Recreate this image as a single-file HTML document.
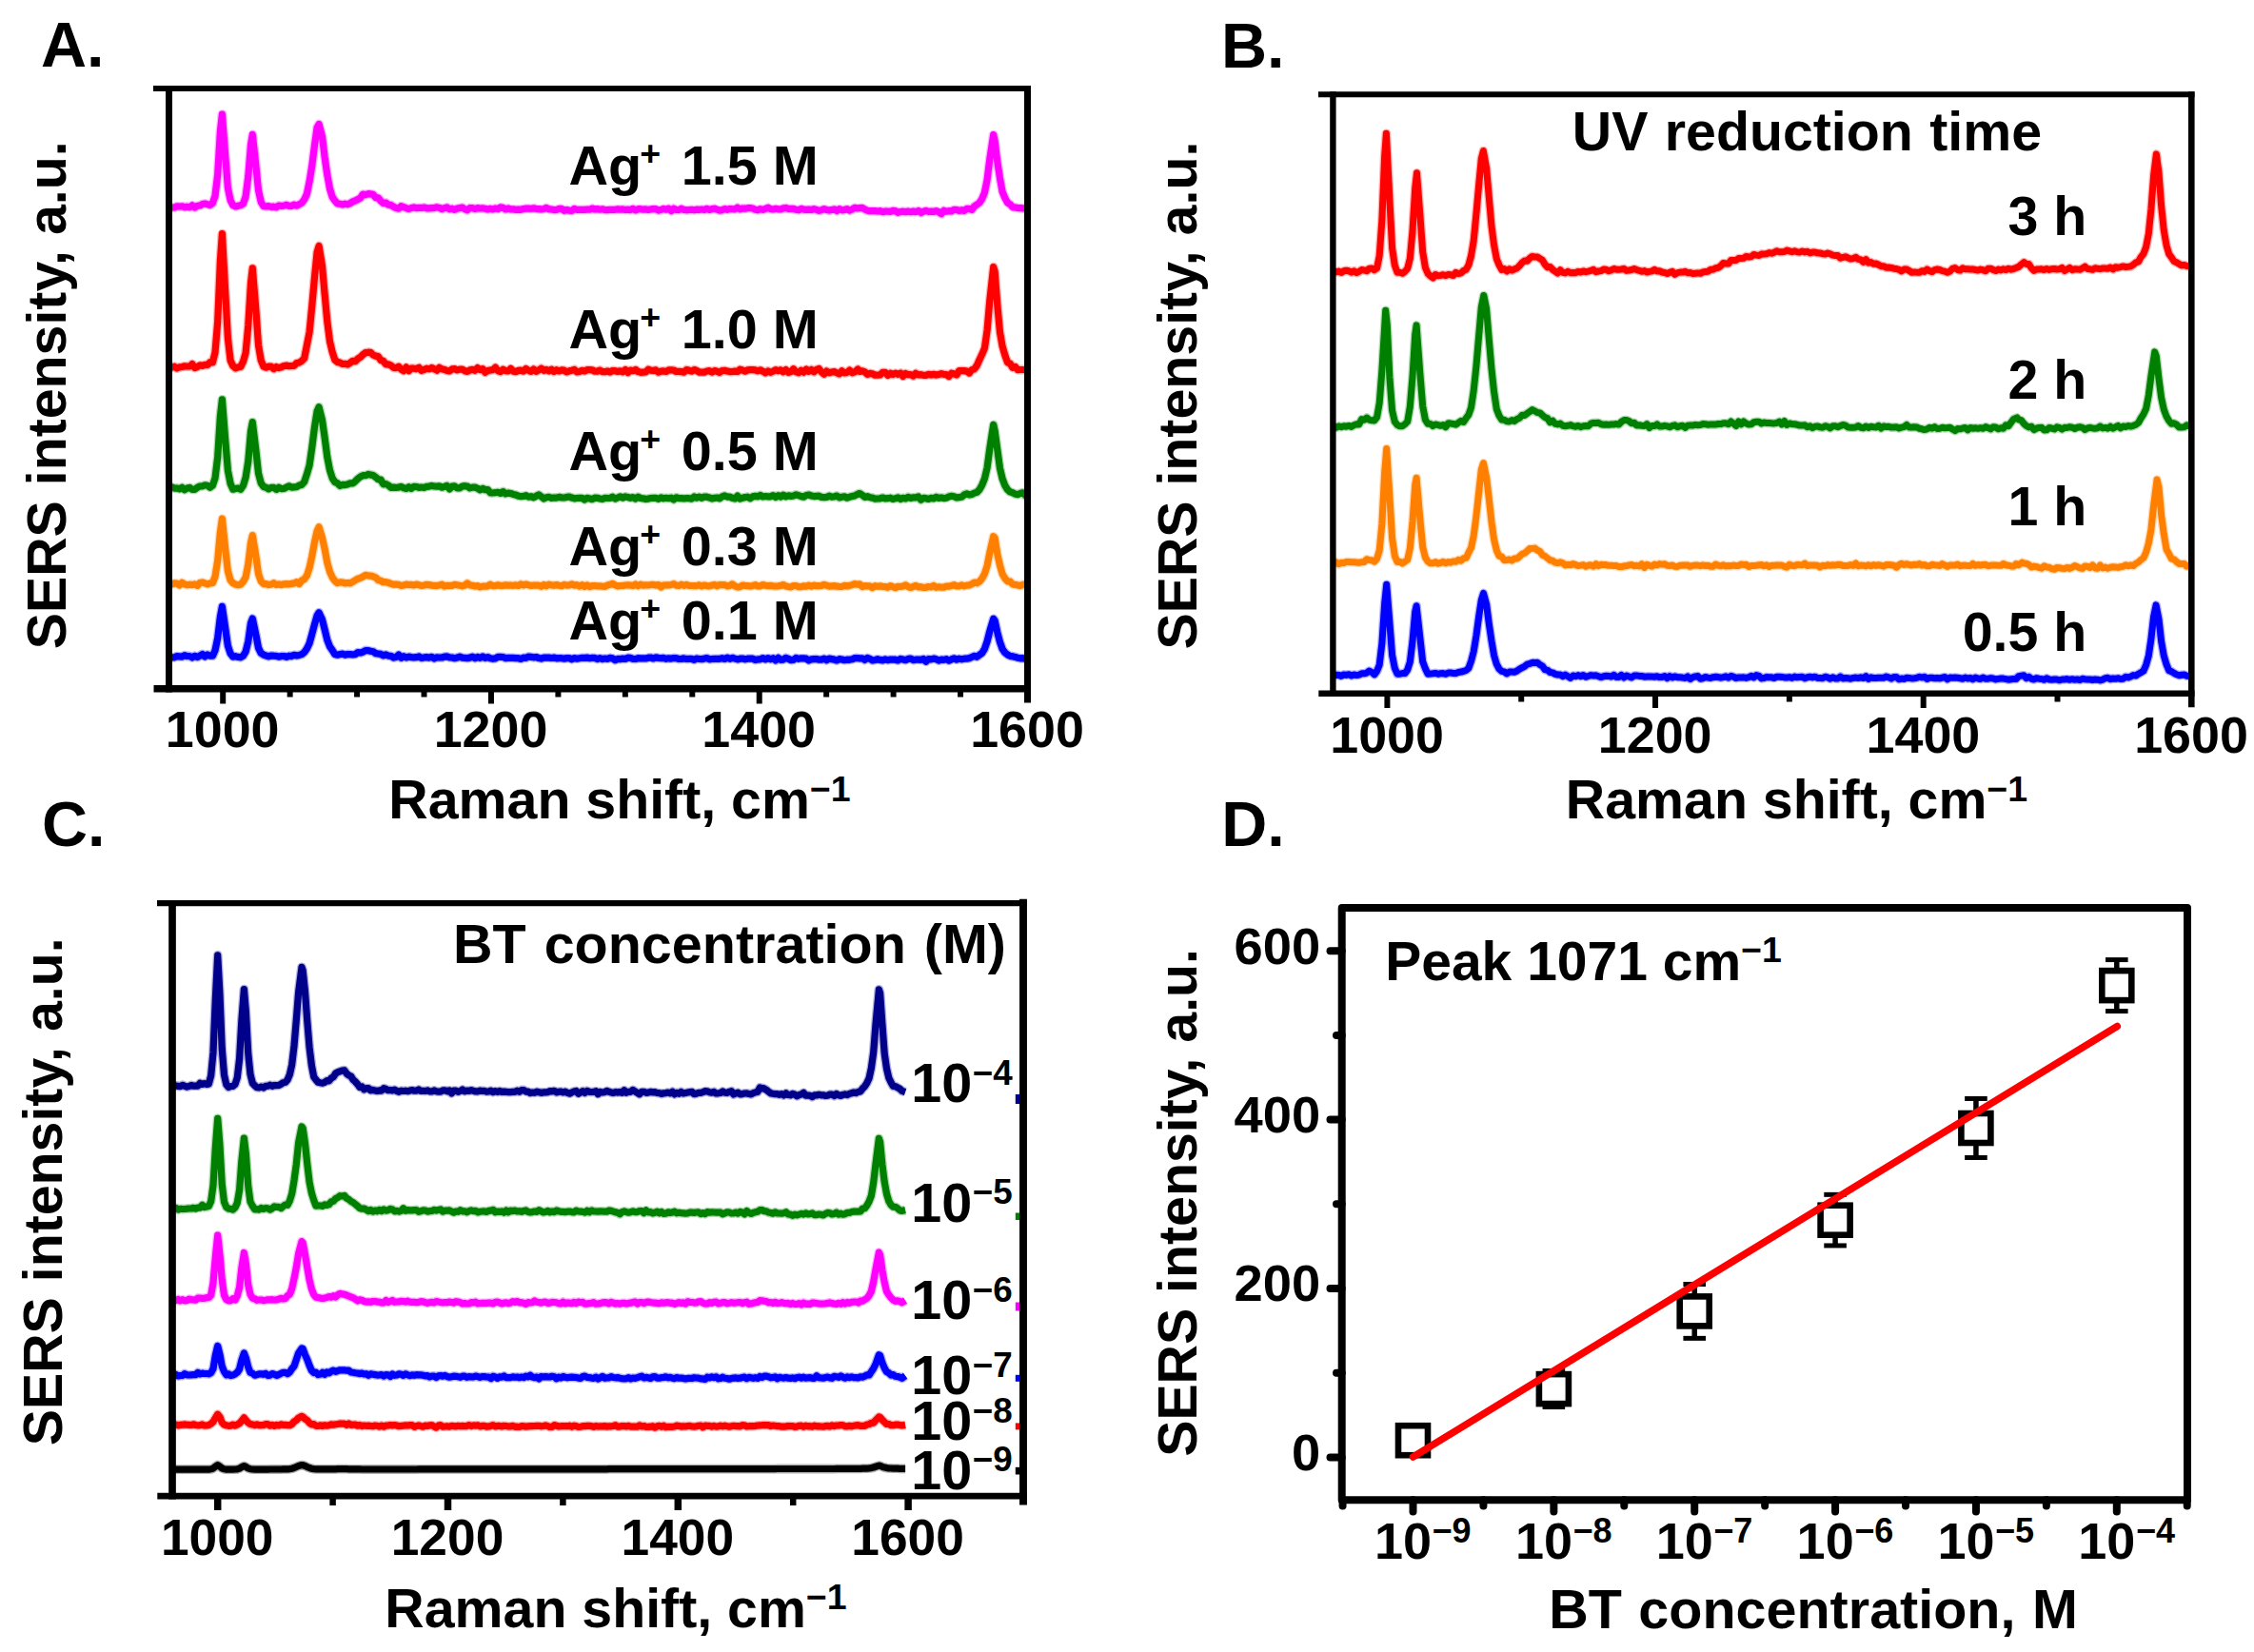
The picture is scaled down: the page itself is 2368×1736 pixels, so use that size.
<!DOCTYPE html>
<html lang="en"><head><meta charset="utf-8"><title>SERS spectra figure</title>
<style>html,body{margin:0;padding:0;background:#fff;}body{width:2368px;height:1736px;overflow:hidden;}svg{display:block;}text{font-family:'Liberation Sans', Arial, Helvetica, sans-serif;font-weight:bold;fill:#000;}</style>
</head><body>
<svg width="2368" height="1736" viewBox="0 0 2368 1736">
<rect x="0" y="0" width="2368" height="1736" fill="#fff"/>
<g id="panelA">
<defs><polyline id="sp1" points="177.8,217.1 180.5,218.1 183.2,218.0 185.9,216.8 188.6,217.0 191.2,216.8 193.9,217.6 196.6,217.2 199.3,217.7 201.9,215.8 204.6,218.0 207.3,216.3 210.0,216.0 212.6,214.6 215.3,214.0 218.0,214.8 220.7,215.5 223.4,213.4 226.0,205.8 228.7,183.2 231.4,138.0 233.4,120.1 236.7,163.6 239.4,197.5 242.1,210.6 244.8,215.7 247.4,216.9 250.1,216.4 252.8,215.6 255.5,214.1 258.1,206.5 260.8,185.3 263.5,152.1 265.3,141.4 268.9,174.3 271.5,200.0 274.2,212.3 276.9,216.7 279.6,216.9 282.2,216.6 284.9,217.4 287.6,217.2 290.3,217.8 292.9,216.0 295.6,216.3 298.3,216.1 301.0,215.3 303.7,216.4 306.3,216.4 309.0,215.1 311.7,216.1 314.4,214.8 317.0,213.2 319.7,209.8 322.4,203.8 325.1,190.7 327.7,174.6 330.4,153.4 333.1,134.0 335.1,130.4 338.5,143.4 341.1,164.9 343.8,183.7 346.5,198.4 349.2,207.2 351.8,210.8 354.5,213.9 357.2,214.3 359.9,215.0 362.5,214.2 365.2,214.8 367.9,213.6 370.6,211.9 373.2,210.9 375.9,209.5 378.6,208.1 381.3,204.1 384.0,204.7 387.1,203.6 389.3,203.9 392.0,204.4 394.7,207.6 397.3,207.8 400.0,211.1 402.7,213.5 405.4,213.0 408.0,215.2 410.7,215.4 413.4,217.2 416.1,218.6 418.8,219.2 421.4,216.7 424.1,217.7 426.8,218.7 429.5,219.4 432.1,218.6 434.8,217.9 437.5,218.6 440.2,218.4 442.8,218.4 445.5,218.0 448.2,218.8 450.9,218.8 453.6,218.6 456.2,218.5 458.9,217.8 461.6,218.4 464.3,219.6 466.9,218.7 469.6,217.8 472.3,219.8 475.0,219.2 477.6,220.4 480.3,219.0 483.0,218.6 485.7,218.0 488.3,219.9 491.0,220.8 493.7,218.5 496.4,218.6 499.1,219.5 501.7,218.6 504.4,219.0 507.1,218.9 509.8,219.3 512.4,220.0 515.1,219.3 517.8,219.9 520.5,219.0 523.1,219.6 525.8,217.9 528.5,218.4 531.2,220.0 533.9,219.0 536.5,219.9 539.2,219.9 541.9,220.4 544.6,220.1 547.2,220.3 549.9,219.5 552.6,219.1 555.3,219.1 557.9,219.3 560.6,218.9 563.3,219.3 566.0,219.6 568.6,219.9 571.3,219.5 574.0,218.4 576.7,219.7 579.4,220.0 582.0,220.6 584.7,220.3 587.4,219.4 590.1,219.4 592.7,221.3 595.4,220.5 598.1,221.2 600.8,221.5 603.4,219.4 606.1,220.3 608.8,220.3 611.5,220.4 614.2,220.4 616.8,220.2 619.5,220.2 622.2,219.0 624.9,220.0 627.5,219.6 630.2,220.2 632.9,219.8 635.6,220.6 638.2,220.7 640.9,220.4 643.6,220.4 646.3,220.3 649.0,219.9 651.6,220.1 654.3,219.9 657.0,220.5 659.7,220.2 662.3,220.6 665.0,219.3 667.7,220.9 670.4,219.7 673.0,219.7 675.7,220.1 678.4,219.9 681.1,220.5 683.7,219.9 686.4,219.5 689.1,219.7 691.8,221.2 694.5,220.3 697.1,219.4 699.8,220.2 702.5,219.1 705.2,221.5 707.8,219.1 710.5,220.5 713.2,220.6 715.9,219.2 718.5,220.4 721.2,220.8 723.9,220.5 726.6,220.3 729.3,220.8 731.9,220.2 734.6,220.3 737.3,220.0 740.0,220.5 742.6,219.3 745.3,220.5 748.0,219.6 750.7,219.2 753.3,220.2 756.0,221.1 758.7,220.6 761.4,219.5 764.0,220.3 766.7,219.5 769.4,219.7 772.1,219.8 774.8,218.1 777.4,219.9 780.1,219.0 782.8,219.2 785.5,218.7 788.1,218.6 790.8,219.0 793.5,220.2 796.2,220.8 798.8,219.6 801.5,220.4 804.2,219.4 806.9,218.2 809.6,219.7 812.2,219.9 814.9,219.3 817.6,219.8 820.3,219.9 822.9,218.9 825.6,218.5 828.3,219.4 831.0,219.4 833.6,219.3 836.3,220.3 839.0,220.8 841.7,219.3 844.4,220.1 847.0,220.4 849.7,220.2 852.4,220.5 855.1,219.6 857.7,220.4 860.4,221.4 863.1,220.6 865.8,219.6 868.4,220.5 871.1,221.1 873.8,220.5 876.5,219.9 879.1,221.5 881.8,219.6 884.5,220.8 887.2,220.5 889.9,219.6 892.5,221.1 895.2,220.0 897.9,218.3 900.6,219.0 903.2,218.6 905.9,218.4 908.6,220.0 911.3,221.2 913.9,221.7 916.6,221.6 919.3,221.6 922.0,222.0 924.7,221.6 927.3,222.7 930.0,222.0 932.7,222.2 935.4,222.4 938.0,221.4 940.7,221.7 943.4,223.3 946.1,222.5 948.7,222.2 951.4,222.6 954.1,222.1 956.8,222.7 959.5,222.0 962.1,222.7 964.8,221.4 967.5,223.5 970.2,222.2 972.8,221.4 975.5,222.3 978.2,222.2 980.9,222.5 983.5,221.6 986.2,222.6 988.9,224.8 991.6,221.2 994.2,222.3 996.9,221.7 999.6,221.9 1002.3,220.3 1005.0,220.5 1007.6,221.4 1010.3,220.8 1013.0,221.5 1015.7,219.4 1018.3,219.4 1021.0,220.5 1023.7,216.7 1026.4,215.0 1029.0,213.0 1031.7,208.9 1034.4,202.3 1037.1,188.9 1039.8,167.3 1043.7,141.6 1045.1,148.0 1047.8,169.8 1050.5,187.3 1053.1,201.6 1055.8,208.0 1058.5,212.9 1061.2,214.7 1063.8,217.6 1066.5,217.9 1069.2,218.6 1071.9,218.6 1074.5,218.8 1079.5,219.5"/></defs>
<use href="#sp1" fill="none" stroke="#ff00ff" stroke-width="9.80" stroke-linejoin="round" opacity="0.3"/>
<use href="#sp1" fill="none" stroke="#ff00ff" stroke-width="7.20" stroke-linejoin="round"/>
<defs><polyline id="sp2" points="177.8,386.9 180.5,386.1 183.2,385.2 185.9,387.0 188.6,385.8 191.2,385.5 193.9,384.8 196.6,385.0 199.3,385.0 201.9,382.5 204.6,386.5 207.3,385.5 210.0,383.9 212.6,384.4 215.3,383.3 218.0,383.5 220.7,380.6 223.4,380.8 226.0,370.2 228.7,337.8 231.4,274.3 233.4,245.6 236.7,306.8 239.4,355.5 242.1,378.9 244.8,384.6 247.4,386.9 250.1,385.8 252.8,385.4 255.5,379.9 258.1,370.8 260.8,341.8 263.5,297.5 265.3,281.8 268.9,326.1 271.5,362.8 274.2,378.6 276.9,385.1 279.6,386.2 282.2,385.2 284.9,385.1 287.6,387.6 290.3,385.5 292.9,386.6 295.6,385.8 298.3,384.5 301.0,384.1 303.7,384.7 306.3,384.5 309.0,384.3 311.7,381.5 314.4,381.0 317.0,379.3 319.7,376.5 322.4,362.7 325.1,348.9 327.7,322.2 330.4,292.3 333.1,265.1 335.1,258.5 338.5,279.6 341.1,308.8 343.8,337.8 346.5,358.9 349.2,370.2 351.8,378.2 354.5,380.4 357.2,381.1 359.9,382.5 362.5,382.3 365.2,383.0 367.9,381.2 370.6,379.3 373.2,379.7 375.9,377.1 378.6,375.3 381.3,372.7 384.0,370.6 387.1,370.2 389.3,370.3 392.0,373.0 394.7,374.1 397.3,374.6 400.0,378.6 402.7,379.3 405.4,382.9 408.0,382.9 410.7,384.0 413.4,386.3 416.1,386.6 418.8,385.2 421.4,388.1 424.1,389.8 426.8,385.9 429.5,389.6 432.1,387.0 434.8,387.2 437.5,387.6 440.2,386.3 442.8,389.4 445.5,388.5 448.2,387.2 450.9,387.7 453.6,386.4 456.2,387.7 458.9,389.2 461.6,386.3 464.3,387.8 466.9,388.4 469.6,389.5 472.3,389.8 475.0,387.9 477.6,387.6 480.3,388.9 483.0,388.1 485.7,388.2 488.3,389.7 491.0,390.4 493.7,388.9 496.4,388.4 499.1,389.3 501.7,386.6 504.4,388.7 507.1,387.6 509.8,391.4 512.4,389.6 515.1,389.0 517.8,388.6 520.5,386.1 523.1,389.7 525.8,390.7 528.5,388.2 531.2,389.7 533.9,389.8 536.5,387.3 539.2,390.1 541.9,390.6 544.6,389.4 547.2,389.1 549.9,390.0 552.6,387.5 555.3,389.3 557.9,390.4 560.6,387.9 563.3,390.4 566.0,388.9 568.6,387.1 571.3,389.3 574.0,388.3 576.7,389.8 579.4,388.2 582.0,390.6 584.7,388.7 587.4,389.9 590.1,388.9 592.7,389.2 595.4,390.9 598.1,389.8 600.8,389.2 603.4,388.3 606.1,390.9 608.8,390.5 611.5,389.3 614.2,390.0 616.8,388.6 619.5,388.6 622.2,388.8 624.9,390.2 627.5,390.1 630.2,389.0 632.9,390.6 635.6,390.7 638.2,390.0 640.9,391.0 643.6,389.5 646.3,389.7 649.0,390.4 651.6,389.9 654.3,390.8 657.0,388.5 659.7,391.5 662.3,389.1 665.0,389.7 667.7,388.4 670.4,390.6 673.0,391.3 675.7,391.1 678.4,390.9 681.1,388.2 683.7,389.1 686.4,389.4 689.1,388.9 691.8,391.2 694.5,390.2 697.1,389.9 699.8,390.5 702.5,388.9 705.2,388.9 707.8,389.0 710.5,390.5 713.2,390.3 715.9,390.6 718.5,391.1 721.2,388.5 723.9,389.3 726.6,390.1 729.3,388.5 731.9,389.4 734.6,391.1 737.3,391.2 740.0,391.1 742.6,390.0 745.3,389.7 748.0,391.1 750.7,389.5 753.3,390.3 756.0,391.4 758.7,389.5 761.4,389.3 764.0,389.9 766.7,390.6 769.4,390.5 772.1,390.1 774.8,390.5 777.4,388.2 780.1,389.0 782.8,390.1 785.5,388.9 788.1,388.5 790.8,388.6 793.5,388.9 796.2,389.7 798.8,388.8 801.5,390.2 804.2,391.8 806.9,389.8 809.6,391.3 812.2,390.2 814.9,388.7 817.6,389.6 820.3,388.8 822.9,390.8 825.6,388.6 828.3,391.4 831.0,390.6 833.6,387.7 836.3,390.8 839.0,391.7 841.7,389.2 844.4,391.2 847.0,388.1 849.7,390.4 852.4,388.4 855.1,390.8 857.7,388.4 860.4,387.5 863.1,390.9 865.8,393.1 868.4,390.0 871.1,391.7 873.8,391.0 876.5,390.6 879.1,391.7 881.8,392.9 884.5,389.8 887.2,391.8 889.9,391.4 892.5,389.1 895.2,391.7 897.9,390.9 901.3,388.0 903.2,390.4 905.9,389.8 908.6,390.8 911.3,393.4 913.9,392.4 916.6,392.8 919.3,394.2 922.0,394.1 924.7,393.8 927.3,391.4 930.0,391.3 932.7,394.4 935.4,392.2 938.0,393.5 940.7,392.2 943.4,393.3 946.1,392.1 948.7,395.4 951.4,392.5 954.1,393.6 956.8,393.6 959.5,395.1 962.1,392.3 964.8,393.8 967.5,393.6 970.2,394.4 972.8,394.3 975.5,393.3 978.2,394.0 980.9,393.3 983.5,394.1 986.2,393.4 988.9,392.7 991.6,393.3 994.2,393.5 996.9,395.5 999.6,392.2 1002.3,392.8 1005.0,393.8 1007.6,389.6 1010.3,389.5 1013.0,389.6 1015.7,390.1 1018.3,392.0 1021.0,388.6 1023.7,387.8 1026.4,383.9 1029.0,378.0 1031.7,372.3 1034.4,365.9 1037.1,346.9 1039.8,316.0 1043.7,280.7 1045.1,285.4 1047.8,320.2 1050.5,349.1 1053.1,364.0 1055.8,373.3 1058.5,380.9 1061.2,382.0 1063.8,386.3 1066.5,385.4 1069.2,388.6 1071.9,388.5 1074.5,388.5 1079.5,388.6"/></defs>
<use href="#sp2" fill="none" stroke="#ff0000" stroke-width="9.80" stroke-linejoin="round" opacity="0.3"/>
<use href="#sp2" fill="none" stroke="#ff0000" stroke-width="7.20" stroke-linejoin="round"/>
<defs><polyline id="sp3" points="177.8,513.5 180.5,511.8 183.2,513.1 185.9,513.0 188.6,513.9 191.2,512.3 193.9,514.7 196.6,513.1 199.3,512.4 201.9,514.3 204.6,514.3 207.3,512.3 210.0,511.0 212.6,510.8 215.3,509.8 218.0,510.3 220.7,512.2 223.4,510.1 226.0,502.4 228.7,480.3 231.4,437.6 233.4,419.9 236.7,462.2 239.4,494.4 242.1,508.2 244.8,514.2 247.4,513.5 250.1,513.0 252.8,514.3 255.5,510.3 258.1,501.8 260.8,484.6 263.5,453.1 265.3,443.6 268.9,473.5 271.5,497.3 274.2,507.6 276.9,511.5 279.6,512.3 282.2,513.9 284.9,512.3 287.6,512.4 290.3,514.4 292.9,512.2 295.6,513.7 298.3,513.4 301.0,512.1 303.7,510.8 306.3,512.1 309.0,511.8 311.7,511.6 314.4,510.0 317.0,509.4 319.7,506.4 322.4,498.2 325.1,488.9 327.7,470.8 330.4,449.5 333.1,432.3 335.1,427.8 338.5,441.4 341.1,459.5 343.8,480.3 346.5,494.1 349.2,502.5 351.8,506.5 354.5,507.8 357.2,510.5 359.9,509.3 362.5,509.6 365.2,508.9 367.9,507.9 370.6,507.8 373.2,505.8 375.9,503.1 378.6,501.0 381.3,499.7 384.0,499.7 387.1,498.4 389.3,498.9 392.0,499.6 394.7,501.4 397.3,503.7 400.0,504.1 402.7,508.8 405.4,508.5 408.0,510.0 410.7,512.4 413.4,512.2 416.1,512.4 418.8,512.1 421.4,511.4 424.1,512.8 426.8,513.5 429.5,511.7 432.1,513.4 434.8,511.3 437.5,511.5 440.2,512.4 442.8,512.0 445.5,512.5 448.2,511.4 450.9,511.1 453.6,510.4 456.2,511.0 458.9,511.1 461.6,510.8 464.3,512.2 466.9,511.4 469.6,510.3 472.3,513.9 475.0,511.2 477.6,510.9 480.3,512.9 483.0,512.8 485.7,511.0 488.3,510.7 491.0,511.1 493.7,512.9 496.4,512.1 499.1,512.1 501.7,513.2 504.4,514.8 507.1,513.3 509.8,514.7 512.4,514.5 515.1,517.8 517.8,518.0 520.5,517.7 523.1,517.3 525.8,518.4 528.5,516.6 531.2,518.9 533.9,518.1 536.5,518.5 539.2,519.4 541.9,520.1 544.6,521.2 547.2,521.6 549.9,521.5 552.6,520.7 555.3,522.2 557.9,521.7 560.6,522.8 563.3,521.3 566.0,519.9 568.6,521.8 571.3,524.0 574.0,522.8 576.7,522.3 579.4,523.3 582.0,523.0 584.7,523.1 587.4,522.4 590.1,522.9 592.7,523.0 595.4,522.4 598.1,522.0 600.8,523.1 603.4,523.8 606.1,523.5 608.8,523.4 611.5,523.4 614.2,525.1 616.8,523.3 619.5,523.9 622.2,524.7 624.9,523.2 627.5,523.3 630.2,524.0 632.9,524.5 635.6,523.4 638.2,523.5 640.9,523.3 643.6,522.2 646.3,524.1 649.0,523.0 651.6,521.9 654.3,523.1 657.0,521.9 659.7,522.5 662.3,523.3 665.0,522.6 667.7,524.2 670.4,522.1 673.0,523.5 675.7,523.8 678.4,524.5 681.1,524.1 683.7,523.5 686.4,523.4 689.1,523.3 691.8,524.3 694.5,522.8 697.1,523.8 699.8,523.3 702.5,523.6 705.2,523.2 707.8,525.1 710.5,522.8 713.2,523.6 715.9,523.6 718.5,523.8 721.2,523.7 723.9,523.7 726.6,524.1 729.3,522.0 731.9,523.2 734.6,522.2 737.3,523.3 740.0,522.1 742.6,522.2 745.3,522.9 748.0,524.0 750.7,523.3 753.3,523.0 756.0,523.8 758.7,521.9 761.4,520.9 764.0,522.1 766.7,522.2 769.4,523.3 772.1,524.0 774.8,521.1 777.4,524.1 780.1,523.3 782.8,522.6 785.5,522.2 788.1,523.8 790.8,521.9 793.5,521.4 796.2,521.8 798.8,520.5 801.5,522.0 804.2,521.5 806.9,521.8 809.6,521.8 812.2,520.6 814.9,522.5 817.6,520.6 820.3,522.2 822.9,520.2 825.6,521.8 828.3,520.8 831.0,521.5 833.6,521.0 836.3,519.8 839.0,520.7 841.7,521.6 844.4,522.1 847.0,520.5 849.7,520.0 852.4,521.0 855.1,521.6 857.7,521.3 860.4,521.2 863.1,522.5 865.8,522.7 868.4,522.5 871.1,521.2 873.8,522.1 876.5,521.9 879.1,521.0 881.8,522.9 884.5,522.2 887.2,521.8 889.9,523.2 892.5,522.3 895.2,521.6 897.9,520.9 901.3,519.2 903.2,518.5 905.9,520.3 908.6,522.5 911.3,521.7 913.9,522.7 916.6,523.1 919.3,524.1 922.0,524.0 924.7,523.8 927.3,523.0 930.0,523.9 932.7,523.7 935.4,523.2 938.0,524.4 940.7,523.8 943.4,522.8 946.1,524.5 948.7,523.3 951.4,524.0 954.1,522.3 956.8,523.5 959.5,522.8 962.1,522.8 964.8,522.0 967.5,525.3 970.2,523.4 972.8,523.7 975.5,524.4 978.2,523.4 980.9,523.9 983.5,522.3 986.2,523.5 988.9,522.9 991.6,523.6 994.2,523.2 996.9,521.9 999.6,521.3 1002.3,521.8 1005.0,523.0 1007.6,522.6 1010.3,522.2 1013.0,519.9 1015.7,518.9 1018.3,520.0 1021.0,519.4 1023.7,518.1 1026.4,517.3 1029.0,514.5 1031.7,509.7 1034.4,503.0 1037.1,491.5 1039.8,471.5 1043.7,446.4 1045.1,452.6 1047.8,472.3 1050.5,492.1 1053.1,503.1 1055.8,510.2 1058.5,514.6 1061.2,516.9 1063.8,517.7 1066.5,519.2 1069.2,519.6 1071.9,518.5 1074.5,517.8 1079.5,522.7"/></defs>
<use href="#sp3" fill="none" stroke="#008000" stroke-width="9.80" stroke-linejoin="round" opacity="0.3"/>
<use href="#sp3" fill="none" stroke="#008000" stroke-width="7.20" stroke-linejoin="round"/>
<defs><polyline id="sp4" points="177.8,614.6 180.5,614.0 183.2,612.9 185.9,613.2 188.6,615.0 191.2,612.2 193.9,613.9 196.6,614.7 199.3,614.2 201.9,614.6 204.6,613.9 207.3,615.4 210.0,612.6 212.6,612.0 215.3,612.9 218.0,613.8 220.7,612.9 223.4,612.6 226.0,605.8 228.7,588.8 231.4,559.2 233.4,545.1 236.7,576.9 239.4,600.2 242.1,609.7 244.8,612.8 247.4,614.1 250.1,614.7 252.8,614.2 255.5,611.1 258.1,606.7 260.8,592.6 263.5,570.3 265.3,562.6 268.9,584.5 271.5,603.1 274.2,610.7 276.9,613.6 279.6,613.6 282.2,614.5 284.9,614.1 287.6,612.7 290.3,614.5 292.9,613.9 295.6,614.6 298.3,613.8 301.0,613.7 303.7,613.8 306.3,613.4 309.0,612.9 311.7,611.6 314.4,613.5 317.0,610.0 319.7,608.7 322.4,604.9 325.1,596.7 327.7,584.7 330.4,570.1 333.1,558.1 335.1,553.8 338.5,565.0 341.1,576.7 343.8,591.3 346.5,600.9 349.2,606.8 351.8,610.4 354.5,612.7 357.2,611.8 359.9,612.0 362.5,612.9 365.2,612.5 367.9,612.9 370.6,611.4 373.2,609.8 375.9,608.2 378.6,607.4 381.3,606.0 384.0,604.4 387.1,605.0 389.3,605.1 392.0,605.8 394.7,606.8 397.3,609.6 400.0,610.3 402.7,611.7 405.4,611.7 408.0,612.3 410.7,613.4 413.4,614.2 416.1,614.1 418.8,614.4 421.4,615.3 424.1,615.0 426.8,614.1 429.5,614.5 432.1,614.4 434.8,615.0 437.5,614.1 440.2,614.8 442.8,615.4 445.5,615.0 448.2,614.3 450.9,614.6 453.6,615.1 456.2,615.3 458.9,615.6 461.6,614.9 464.3,614.1 466.9,616.0 469.6,615.3 472.3,615.3 475.0,615.3 477.6,614.3 480.3,614.8 483.0,615.3 485.7,615.8 488.3,615.1 491.0,612.9 493.7,614.9 496.4,615.3 499.1,616.0 501.7,615.6 504.4,616.9 507.1,616.1 509.8,616.1 512.4,615.8 515.1,614.2 517.8,615.7 520.5,615.5 523.1,614.8 525.8,615.5 528.5,615.4 531.2,614.8 533.9,615.1 536.5,615.0 539.2,615.3 541.9,614.9 544.6,615.5 547.2,613.8 549.9,615.0 552.6,614.0 555.3,614.8 557.9,615.5 560.6,615.2 563.3,615.1 566.0,615.2 568.6,616.3 571.3,614.4 574.0,615.8 576.7,614.1 579.4,614.9 582.0,615.3 584.7,614.6 587.4,615.3 590.1,615.7 592.7,614.4 595.4,615.1 598.1,614.9 600.8,613.8 603.4,615.1 606.1,614.6 608.8,616.1 611.5,614.6 614.2,616.4 616.8,614.8 619.5,616.6 622.2,615.6 624.9,615.5 627.5,615.8 630.2,615.8 632.9,616.2 635.6,616.4 638.2,615.0 640.9,614.3 643.6,613.3 646.3,614.9 649.0,615.8 651.6,615.5 654.3,615.3 657.0,615.0 659.7,614.8 662.3,615.0 665.0,615.5 667.7,614.0 670.4,615.7 673.0,614.2 675.7,615.1 678.4,614.8 681.1,615.0 683.7,614.5 686.4,614.4 689.1,615.1 691.8,614.5 694.5,617.0 697.1,615.0 699.8,614.8 702.5,614.9 705.2,614.5 707.8,613.5 710.5,615.1 713.2,615.5 715.9,614.2 718.5,615.3 721.2,614.4 723.9,615.3 726.6,615.5 729.3,615.6 731.9,615.6 734.6,614.8 737.3,615.9 740.0,615.0 742.6,615.6 745.3,615.8 748.0,615.1 750.7,614.4 753.3,615.8 756.0,614.5 758.7,614.7 761.4,614.6 764.0,615.9 766.7,615.2 769.4,613.8 772.1,615.9 774.8,616.8 777.4,616.6 780.1,615.0 782.8,615.4 785.5,615.7 788.1,616.0 790.8,615.4 793.5,614.6 796.2,615.9 798.8,615.8 801.5,614.5 804.2,615.2 806.9,615.6 809.6,615.4 812.2,615.8 814.9,616.0 817.6,615.8 820.3,615.4 822.9,614.5 825.6,615.9 828.3,616.5 831.0,616.9 833.6,615.5 836.3,615.5 839.0,616.6 841.7,616.6 844.4,615.8 847.0,616.1 849.7,615.1 852.4,616.1 855.1,615.1 857.7,615.6 860.4,615.7 863.1,615.4 865.8,614.3 868.4,615.2 871.1,616.1 873.8,615.8 876.5,615.6 879.1,616.2 881.8,616.4 884.5,616.5 887.2,615.4 889.9,615.9 892.5,615.4 895.2,614.6 897.9,613.6 900.6,614.2 903.2,613.8 905.9,616.6 908.6,615.6 911.3,615.9 913.9,615.9 916.6,617.6 919.3,615.7 922.0,616.3 924.7,615.9 927.3,616.4 930.0,616.5 932.7,617.3 935.4,615.6 938.0,616.6 940.7,617.7 943.4,616.3 946.1,616.5 948.7,616.0 951.4,614.8 954.1,616.6 956.8,617.5 959.5,616.4 962.1,615.4 964.8,616.9 967.5,616.7 970.2,617.4 972.8,617.3 975.5,616.5 978.2,616.9 980.9,615.3 983.5,617.3 986.2,616.7 988.9,617.2 991.6,617.2 994.2,616.2 996.9,616.2 999.6,615.6 1002.3,614.6 1005.0,615.9 1007.6,615.9 1010.3,614.9 1013.0,615.9 1015.7,615.1 1018.3,615.0 1021.0,613.6 1023.7,612.1 1026.4,612.8 1029.0,611.1 1031.7,607.9 1034.4,602.9 1037.1,594.5 1039.8,580.9 1043.7,563.7 1045.1,565.3 1047.8,582.3 1050.5,594.2 1053.1,603.2 1055.8,607.8 1058.5,610.8 1061.2,611.0 1063.8,614.0 1066.5,614.3 1069.2,614.9 1071.9,615.6 1074.5,614.4 1079.5,613.1"/></defs>
<use href="#sp4" fill="none" stroke="#ff8000" stroke-width="9.80" stroke-linejoin="round" opacity="0.3"/>
<use href="#sp4" fill="none" stroke="#ff8000" stroke-width="7.20" stroke-linejoin="round"/>
<defs><polyline id="sp5" points="177.8,690.2 180.5,690.9 183.2,690.8 185.9,689.6 188.6,689.9 191.2,690.2 193.9,688.7 196.6,689.5 199.3,689.5 201.9,691.0 204.6,689.3 207.3,690.6 210.0,689.1 212.6,687.5 215.3,690.0 218.0,687.9 220.7,689.2 223.4,689.2 226.0,683.4 228.7,670.4 231.4,648.1 233.4,637.4 236.7,659.9 239.4,678.7 242.1,686.8 244.8,690.1 247.4,689.7 250.1,690.4 252.8,690.8 255.5,689.1 258.1,684.9 260.8,674.0 263.5,654.7 265.3,650.0 268.9,667.2 271.5,680.8 274.2,686.3 276.9,688.1 279.6,689.0 282.2,689.8 284.9,689.0 287.6,689.2 290.3,689.3 292.9,690.2 295.6,689.5 298.3,689.5 301.0,690.4 303.7,689.2 306.3,689.6 309.0,688.3 311.7,689.0 314.4,688.4 317.0,687.6 319.7,685.5 322.4,681.7 325.1,676.0 327.7,666.6 330.4,656.4 333.1,646.9 335.1,643.7 338.5,651.1 341.1,661.4 343.8,672.5 346.5,679.5 349.2,683.4 351.8,687.5 354.5,688.2 357.2,687.5 359.9,687.2 362.5,688.2 365.2,687.5 367.9,687.7 370.6,687.9 373.2,687.7 375.9,685.6 378.6,686.0 381.3,685.1 384.0,683.5 387.1,683.6 389.3,684.3 392.0,684.7 394.7,686.7 397.3,687.0 400.0,687.4 402.7,688.9 405.4,687.8 408.0,689.2 410.7,689.3 413.4,691.1 416.1,690.5 418.8,688.1 421.4,691.3 424.1,689.7 426.8,691.0 429.5,690.1 432.1,690.6 434.8,690.9 437.5,690.7 440.2,689.9 442.8,691.5 445.5,690.9 448.2,690.6 450.9,691.1 453.6,690.3 456.2,692.0 458.9,690.8 461.6,691.0 464.3,691.0 466.9,690.1 469.6,689.9 472.3,690.9 475.0,691.0 477.6,691.7 480.3,691.1 483.0,690.1 485.7,691.2 488.3,691.4 491.0,691.6 493.7,691.1 496.4,690.1 499.1,691.7 501.7,690.4 504.4,691.4 507.1,689.9 509.8,691.5 512.4,690.5 515.1,691.8 517.8,692.3 520.5,691.9 523.1,690.3 525.8,690.4 528.5,690.5 531.2,691.6 533.9,691.4 536.5,691.3 539.2,691.4 541.9,691.6 544.6,691.7 547.2,692.4 549.9,691.2 552.6,691.4 555.3,690.0 557.9,690.4 560.6,690.8 563.3,690.5 566.0,691.5 568.6,692.1 571.3,691.1 574.0,691.1 576.7,691.1 579.4,691.5 582.0,691.1 584.7,691.8 587.4,691.7 590.1,691.7 592.7,692.1 595.4,691.6 598.1,691.7 600.8,692.8 603.4,691.6 606.1,692.2 608.8,691.7 611.5,691.3 614.2,691.3 616.8,691.1 619.5,691.7 622.2,691.3 624.9,691.4 627.5,692.6 630.2,691.7 632.9,692.6 635.6,692.0 638.2,692.4 640.9,691.4 643.6,691.9 646.3,693.7 649.0,692.4 651.6,692.6 654.3,692.1 657.0,692.5 659.7,691.1 662.3,691.3 665.0,692.3 667.7,692.5 670.4,691.7 673.0,691.9 675.7,691.8 678.4,691.9 681.1,691.2 683.7,691.0 686.4,692.0 689.1,690.9 691.8,691.4 694.5,691.6 697.1,691.4 699.8,692.3 702.5,691.8 705.2,692.1 707.8,691.5 710.5,691.6 713.2,692.5 715.9,692.4 718.5,691.9 721.2,692.5 723.9,692.3 726.6,692.3 729.3,693.4 731.9,692.0 734.6,692.5 737.3,692.6 740.0,692.1 742.6,691.5 745.3,692.8 748.0,692.5 750.7,692.3 753.3,692.3 756.0,692.3 758.7,691.7 761.4,692.5 764.0,691.1 766.7,692.3 769.4,691.3 772.1,692.1 774.8,692.9 777.4,692.2 780.1,692.1 782.8,692.8 785.5,692.2 788.1,692.1 790.8,692.2 793.5,693.5 796.2,692.9 798.8,692.8 801.5,691.6 804.2,692.9 806.9,691.6 809.6,692.8 812.2,691.7 814.9,693.9 817.6,691.3 820.3,693.4 822.9,693.1 825.6,691.3 828.3,692.4 831.0,693.6 833.6,693.4 836.3,691.4 839.0,692.3 841.7,691.8 844.4,691.9 847.0,692.2 849.7,694.0 852.4,692.8 855.1,692.6 857.7,692.5 860.4,693.2 863.1,693.2 865.8,692.1 868.4,693.8 871.1,692.1 873.8,692.6 876.5,693.1 879.1,694.0 881.8,692.6 884.5,693.0 887.2,693.7 889.9,693.2 892.5,693.3 895.2,692.8 897.9,691.7 900.6,691.5 903.2,691.9 905.9,691.8 908.6,693.5 911.3,691.4 913.9,692.3 916.6,694.0 919.3,693.4 922.0,692.7 924.7,693.4 927.3,693.9 930.0,692.8 932.7,693.7 935.4,693.1 938.0,693.1 940.7,693.2 943.4,694.0 946.1,692.4 948.7,693.0 951.4,693.7 954.1,692.4 956.8,692.1 959.5,693.6 962.1,693.2 964.8,693.1 967.5,693.3 970.2,692.5 972.8,695.2 975.5,692.5 978.2,692.9 980.9,692.1 983.5,692.8 986.2,694.1 988.9,693.1 991.6,693.4 994.2,692.6 996.9,694.2 999.6,692.9 1002.3,691.8 1005.0,693.2 1007.6,692.2 1010.3,692.8 1013.0,692.2 1015.7,692.1 1018.3,691.6 1021.0,690.5 1023.7,689.4 1026.4,690.3 1029.0,688.2 1031.7,686.3 1034.4,681.9 1037.1,674.0 1039.8,663.3 1043.7,650.3 1045.1,652.1 1047.8,664.6 1050.5,674.7 1053.1,682.0 1055.8,685.8 1058.5,688.0 1061.2,689.4 1063.8,689.8 1066.5,690.4 1069.2,691.2 1071.9,691.8 1074.5,691.6 1079.5,693.2"/></defs>
<use href="#sp5" fill="none" stroke="#0000ff" stroke-width="9.80" stroke-linejoin="round" opacity="0.3"/>
<use href="#sp5" fill="none" stroke="#0000ff" stroke-width="7.20" stroke-linejoin="round"/>
<line x1="161.00" y1="93.00" x2="1083.00" y2="93.00" stroke="#000" stroke-width="6.00" stroke-linecap="butt"/>
<line x1="161.50" y1="723.80" x2="1083.00" y2="723.80" stroke="#000" stroke-width="7.40" stroke-linecap="butt"/>
<line x1="177.50" y1="90.00" x2="177.50" y2="727.50" stroke="#000" stroke-width="7.00" stroke-linecap="butt"/>
<line x1="1079.50" y1="90.00" x2="1079.50" y2="738.50" stroke="#000" stroke-width="7.00" stroke-linecap="butt"/>
<line x1="234.20" y1="724.00" x2="234.20" y2="739.50" stroke="#000" stroke-width="6.00" stroke-linecap="butt"/>
<line x1="515.96" y1="724.00" x2="515.96" y2="739.50" stroke="#000" stroke-width="6.00" stroke-linecap="butt"/>
<line x1="797.72" y1="724.00" x2="797.72" y2="739.50" stroke="#000" stroke-width="6.00" stroke-linecap="butt"/>
<line x1="304.64" y1="724.00" x2="304.64" y2="732.50" stroke="#000" stroke-width="6.00" stroke-linecap="butt"/>
<line x1="375.08" y1="724.00" x2="375.08" y2="732.50" stroke="#000" stroke-width="6.00" stroke-linecap="butt"/>
<line x1="445.52" y1="724.00" x2="445.52" y2="732.50" stroke="#000" stroke-width="6.00" stroke-linecap="butt"/>
<line x1="586.40" y1="724.00" x2="586.40" y2="732.50" stroke="#000" stroke-width="6.00" stroke-linecap="butt"/>
<line x1="656.84" y1="724.00" x2="656.84" y2="732.50" stroke="#000" stroke-width="6.00" stroke-linecap="butt"/>
<line x1="727.28" y1="724.00" x2="727.28" y2="732.50" stroke="#000" stroke-width="6.00" stroke-linecap="butt"/>
<line x1="868.16" y1="724.00" x2="868.16" y2="732.50" stroke="#000" stroke-width="6.00" stroke-linecap="butt"/>
<line x1="938.60" y1="724.00" x2="938.60" y2="732.50" stroke="#000" stroke-width="6.00" stroke-linecap="butt"/>
<line x1="1009.04" y1="724.00" x2="1009.04" y2="732.50" stroke="#000" stroke-width="6.00" stroke-linecap="butt"/>
<text x="233.7" y="785.4" font-size="53.8" text-anchor="middle" >1000</text>
<text x="515.5" y="785.4" font-size="53.8" text-anchor="middle" >1200</text>
<text x="797.2" y="785.4" font-size="53.8" text-anchor="middle" >1400</text>
<text x="1079.0" y="785.4" font-size="53.8" text-anchor="middle" >1600</text>
<text x="651.0" y="860.0" font-size="57.3" text-anchor="middle" >Raman shift, cm<tspan font-size="37.5" dy="-18.5" dx="0.0">−1</tspan></text>
<text x="0.0" y="0.0" font-size="57.3" text-anchor="middle" transform="translate(68.7,415.3) rotate(-90)">SERS intensity, a.u.</text>
<text x="43.0" y="70.3" font-size="66.5" text-anchor="start" >A.</text>
<text x="597.5" y="194.2" font-size="57.6" text-anchor="start" >Ag<tspan font-size="37.5" dy="-20.0" dx="-2.0">+</tspan><tspan dy="20" dx="5.5"> 1.5 M</tspan></text>
<text x="597.5" y="365.5" font-size="57.6" text-anchor="start" >Ag<tspan font-size="37.5" dy="-20.0" dx="-2.0">+</tspan><tspan dy="20" dx="5.5"> 1.0 M</tspan></text>
<text x="597.5" y="494.0" font-size="57.6" text-anchor="start" >Ag<tspan font-size="37.5" dy="-20.0" dx="-2.0">+</tspan><tspan dy="20" dx="5.5"> 0.5 M</tspan></text>
<text x="597.5" y="594.0" font-size="57.6" text-anchor="start" >Ag<tspan font-size="37.5" dy="-20.0" dx="-2.0">+</tspan><tspan dy="20" dx="5.5"> 0.3 M</tspan></text>
<text x="597.5" y="672.0" font-size="57.6" text-anchor="start" >Ag<tspan font-size="37.5" dy="-20.0" dx="-2.0">+</tspan><tspan dy="20" dx="5.5"> 0.1 M</tspan></text>
</g>
<g id="panelB">
<defs><polyline id="sp6" points="1401.1,285.8 1403.7,285.8 1406.4,285.1 1409.1,286.5 1411.8,284.8 1414.4,284.3 1417.1,284.8 1419.8,286.2 1422.5,284.7 1425.2,286.7 1427.8,285.4 1430.5,283.6 1433.2,283.9 1435.9,284.8 1438.5,282.2 1441.2,282.0 1443.9,283.8 1446.6,281.8 1449.2,268.8 1451.9,231.1 1454.6,164.7 1456.4,140.2 1459.9,209.8 1462.6,260.7 1465.3,278.9 1468.0,286.3 1470.6,286.3 1473.3,287.3 1476.0,285.4 1478.7,282.1 1481.3,271.9 1484.0,242.4 1486.7,198.0 1488.5,181.8 1492.0,227.5 1494.7,264.7 1497.4,281.1 1500.1,287.5 1502.7,289.9 1505.4,292.0 1508.1,288.5 1510.8,289.8 1513.4,289.4 1516.1,288.7 1518.8,289.6 1521.5,288.4 1524.1,288.8 1526.8,289.5 1529.5,286.3 1532.2,287.6 1534.9,286.9 1537.5,284.4 1540.2,283.3 1542.9,278.5 1545.6,268.5 1548.2,252.9 1550.9,224.9 1553.6,194.9 1556.3,166.7 1558.4,158.5 1561.6,176.5 1564.3,207.1 1567.0,237.8 1569.6,257.7 1572.3,272.0 1575.0,278.6 1577.7,283.5 1580.3,282.6 1583.0,285.0 1585.7,282.7 1588.4,284.1 1591.0,282.8 1593.7,281.9 1596.4,279.2 1599.1,276.0 1601.7,274.1 1604.4,274.2 1607.1,271.4 1609.8,269.4 1611.7,269.9 1615.1,270.0 1617.8,271.7 1620.5,273.5 1623.1,277.9 1625.8,280.9 1628.5,280.5 1631.2,283.3 1633.8,285.2 1636.5,287.1 1639.2,283.8 1641.9,286.4 1644.5,286.9 1647.2,285.2 1649.9,286.7 1652.6,286.4 1655.3,286.7 1657.9,285.4 1660.6,286.0 1663.3,284.9 1666.0,285.7 1668.6,285.1 1671.3,284.4 1674.0,283.3 1676.7,285.7 1679.3,285.0 1682.0,284.6 1684.7,283.1 1687.4,283.2 1690.0,284.8 1692.7,283.9 1695.4,282.5 1698.1,283.2 1700.7,283.2 1703.4,283.0 1706.1,282.4 1708.8,284.4 1711.4,284.0 1714.1,283.5 1716.8,282.5 1719.5,283.6 1722.1,284.3 1724.8,285.3 1727.5,284.5 1730.2,286.0 1732.8,285.4 1735.5,284.9 1738.2,283.3 1740.9,284.9 1743.5,284.8 1746.2,286.0 1748.9,286.5 1751.6,287.5 1754.2,286.3 1756.9,285.3 1759.6,288.3 1762.3,286.6 1765.0,286.1 1767.6,286.1 1770.3,285.2 1773.0,286.8 1775.7,286.6 1778.3,287.6 1781.0,287.2 1783.7,286.9 1786.4,287.3 1789.0,285.9 1791.7,285.5 1794.4,285.2 1797.1,283.3 1799.7,283.2 1802.4,281.8 1805.1,281.3 1807.8,279.4 1810.4,276.5 1813.1,277.0 1815.8,277.1 1818.5,273.5 1821.1,273.6 1823.8,273.5 1826.5,271.6 1829.2,271.5 1831.8,271.3 1834.5,269.4 1837.2,270.1 1839.9,269.6 1842.5,267.5 1845.2,268.1 1847.9,268.5 1850.6,266.9 1853.2,267.0 1855.9,266.8 1858.6,265.6 1861.3,266.2 1863.9,265.3 1866.6,263.8 1869.3,264.7 1872.0,264.7 1874.6,264.5 1877.3,263.1 1880.0,263.9 1882.7,264.7 1885.4,263.8 1888.0,264.7 1890.7,265.0 1893.4,264.0 1896.1,264.9 1898.7,264.3 1901.4,265.8 1904.1,265.1 1906.8,265.0 1909.4,265.8 1912.1,266.0 1914.8,266.7 1917.5,267.1 1920.1,266.0 1922.8,266.8 1925.5,268.1 1928.2,268.6 1930.8,268.6 1933.5,271.2 1936.2,270.4 1938.9,269.8 1941.5,271.0 1944.2,272.0 1946.9,271.6 1949.6,270.3 1952.2,272.4 1954.9,272.9 1957.6,275.3 1960.3,272.6 1962.9,276.2 1965.6,275.6 1968.3,277.3 1971.0,277.0 1973.6,278.2 1976.3,279.8 1979.0,279.7 1981.7,281.3 1984.3,281.0 1987.0,281.4 1989.7,282.2 1992.4,282.5 1995.1,283.3 1997.7,284.9 2000.4,283.0 2003.1,282.9 2005.8,284.5 2008.4,286.2 2011.1,285.9 2013.8,286.3 2016.5,286.3 2019.1,284.7 2021.8,285.4 2024.5,283.0 2027.2,284.7 2029.8,285.6 2032.5,283.6 2035.2,283.0 2037.9,283.5 2040.5,284.6 2043.2,285.2 2045.9,286.2 2048.6,285.1 2051.2,282.4 2053.9,281.5 2056.6,283.5 2059.3,284.1 2061.9,281.8 2064.6,282.7 2067.3,282.7 2070.0,283.1 2072.6,282.9 2075.3,283.5 2078.0,284.0 2080.7,283.1 2083.3,283.7 2086.0,284.8 2088.7,282.2 2091.4,282.2 2094.0,283.5 2096.7,284.6 2099.4,283.1 2102.1,283.9 2104.7,282.7 2107.4,283.6 2110.1,282.2 2112.8,283.2 2115.5,282.5 2118.1,281.4 2120.8,280.4 2123.5,277.9 2126.3,275.6 2128.8,277.5 2131.5,277.6 2134.2,281.8 2136.9,284.4 2139.5,283.0 2142.2,283.1 2144.9,282.8 2147.6,283.5 2150.2,282.5 2152.9,283.5 2155.6,282.7 2158.3,282.5 2160.9,283.0 2163.6,282.8 2166.3,281.4 2169.0,284.6 2171.6,283.0 2174.3,281.4 2177.0,283.7 2179.7,282.8 2182.3,282.9 2185.0,283.3 2187.7,281.9 2190.4,280.2 2193.0,282.5 2195.7,282.8 2198.4,283.4 2201.1,281.8 2203.7,282.2 2206.4,282.6 2209.1,281.9 2211.8,281.9 2214.4,282.2 2217.1,281.0 2219.8,283.0 2222.5,280.7 2225.2,281.2 2227.8,280.6 2230.5,279.9 2233.2,280.5 2235.9,280.3 2238.5,279.9 2241.2,278.1 2243.9,275.8 2246.6,275.0 2249.2,270.1 2251.9,266.8 2254.6,259.5 2257.3,245.6 2259.9,220.0 2262.6,184.5 2265.4,161.9 2268.0,181.5 2270.6,216.2 2273.3,242.0 2276.0,257.7 2278.7,266.9 2281.3,270.6 2284.0,274.6 2286.7,275.8 2289.4,277.4 2292.0,278.9 2294.7,278.5 2297.4,279.6 2302.3,279.8"/></defs>
<use href="#sp6" fill="none" stroke="#ff0000" stroke-width="9.60" stroke-linejoin="round" opacity="0.3"/>
<use href="#sp6" fill="none" stroke="#ff0000" stroke-width="7.00" stroke-linejoin="round"/>
<defs><polyline id="sp7" points="1401.1,448.2 1403.7,449.3 1406.4,447.9 1409.1,448.7 1411.8,447.7 1414.4,448.2 1417.1,447.4 1419.8,448.4 1422.5,446.7 1425.2,445.7 1427.8,445.9 1430.5,440.6 1433.2,441.2 1435.9,439.0 1438.5,441.2 1441.2,441.8 1443.9,441.9 1446.6,438.3 1449.2,423.7 1451.9,389.1 1455.7,326.3 1457.3,341.3 1459.9,396.4 1462.6,431.5 1465.3,443.1 1468.0,446.6 1470.6,447.8 1473.3,447.7 1476.0,445.7 1478.7,443.1 1481.3,427.7 1484.0,395.6 1486.7,351.8 1488.1,341.9 1492.0,394.2 1494.7,426.8 1497.4,441.2 1500.1,445.3 1502.7,445.4 1505.4,447.6 1508.1,446.0 1510.8,446.6 1513.4,447.3 1516.1,446.5 1518.8,448.8 1521.5,444.8 1524.1,445.1 1526.8,445.5 1529.5,446.2 1532.2,444.2 1534.9,442.4 1537.5,443.5 1540.2,439.5 1542.9,435.9 1545.6,428.1 1548.2,410.5 1550.9,385.2 1553.6,353.5 1556.3,322.6 1558.8,310.5 1561.6,324.5 1564.3,356.5 1567.0,387.7 1569.6,411.8 1572.3,430.0 1575.0,436.9 1577.7,441.1 1580.3,441.2 1583.0,442.8 1585.7,442.9 1588.4,441.6 1591.0,442.6 1593.7,440.4 1596.4,439.3 1599.1,436.2 1601.7,436.5 1604.4,434.4 1607.1,432.6 1609.8,430.6 1611.2,431.3 1615.1,433.5 1617.8,433.9 1620.5,436.4 1623.1,438.6 1625.8,439.6 1628.5,443.8 1631.2,442.2 1633.8,445.4 1636.5,445.9 1639.2,445.1 1641.9,447.3 1644.5,447.7 1647.2,447.3 1649.9,446.6 1652.6,447.7 1655.3,448.3 1657.9,447.4 1660.6,448.7 1663.3,447.8 1666.0,447.5 1668.6,447.7 1671.3,445.2 1674.0,444.4 1676.7,444.4 1679.3,444.2 1682.0,445.7 1684.7,446.2 1687.4,446.0 1690.0,446.4 1692.7,446.0 1695.4,445.9 1698.1,445.6 1700.7,446.1 1703.4,443.3 1706.1,441.6 1708.8,441.5 1711.4,442.5 1714.1,444.7 1716.8,444.2 1719.5,447.0 1722.1,446.7 1724.8,447.2 1727.5,447.5 1730.2,445.6 1732.8,449.5 1735.5,447.5 1738.2,447.6 1740.9,445.9 1743.5,448.1 1746.2,448.0 1748.9,447.3 1751.6,447.9 1754.2,448.8 1756.9,447.4 1759.6,446.8 1762.3,448.8 1765.0,447.7 1767.6,447.2 1770.3,449.4 1773.0,447.3 1775.7,446.9 1778.3,447.1 1781.0,446.4 1783.7,446.8 1786.4,446.5 1789.0,445.6 1791.7,445.8 1794.4,446.2 1797.1,446.1 1799.7,446.1 1802.4,446.1 1805.1,445.5 1807.8,445.6 1810.4,444.7 1813.1,444.7 1815.8,445.7 1818.5,443.0 1821.1,445.0 1823.8,447.5 1826.5,443.0 1829.2,445.9 1831.8,443.0 1834.5,444.9 1837.2,446.0 1839.9,445.8 1842.5,443.7 1845.2,443.3 1847.9,443.2 1850.6,445.1 1853.2,444.1 1855.9,444.4 1858.6,444.6 1861.3,444.8 1863.9,444.9 1866.6,444.5 1869.3,443.1 1872.0,446.0 1874.6,442.5 1877.3,446.4 1880.0,445.0 1882.7,445.7 1885.4,445.8 1888.0,446.3 1890.7,447.0 1893.4,447.1 1896.1,446.7 1898.7,448.7 1901.4,447.7 1904.1,449.6 1906.8,448.3 1909.4,447.9 1912.1,448.9 1914.8,449.3 1917.5,447.7 1920.1,448.3 1922.8,449.9 1925.5,447.7 1928.2,447.8 1930.8,448.7 1933.5,447.5 1936.2,446.4 1938.9,447.1 1941.5,449.0 1944.2,449.2 1946.9,449.2 1949.6,449.0 1952.2,447.5 1954.9,449.2 1957.6,449.7 1960.3,448.0 1962.9,449.5 1965.6,448.3 1968.3,448.8 1971.0,449.0 1973.6,447.3 1976.3,450.0 1979.0,447.9 1981.7,448.6 1984.3,448.3 1987.0,449.1 1989.7,449.1 1992.4,448.8 1995.1,450.0 1997.7,449.1 2000.4,448.6 2003.1,446.5 2005.8,449.0 2008.4,449.1 2011.1,448.8 2013.8,448.9 2016.5,450.3 2019.1,450.8 2021.8,451.6 2024.5,450.9 2027.2,449.2 2029.8,450.1 2032.5,448.6 2035.2,450.5 2037.9,450.2 2040.5,449.3 2043.2,449.8 2045.9,449.6 2048.6,449.3 2051.2,451.0 2053.9,452.6 2056.6,450.6 2059.3,450.8 2061.9,450.0 2064.6,449.5 2067.3,451.8 2070.0,449.5 2072.6,450.2 2075.3,449.7 2078.0,450.3 2080.7,449.7 2083.3,450.3 2086.0,448.6 2088.7,449.6 2091.4,450.9 2094.0,448.7 2096.7,449.0 2099.4,450.8 2102.1,449.8 2104.7,450.2 2107.4,446.7 2110.1,447.6 2112.8,443.9 2115.5,440.4 2119.0,438.9 2120.8,440.9 2123.5,441.6 2126.2,445.1 2128.8,447.5 2131.5,448.9 2134.2,448.2 2136.9,451.6 2139.5,450.2 2142.2,449.4 2144.9,449.3 2147.6,451.9 2150.2,451.8 2152.9,449.4 2155.6,450.2 2158.3,451.0 2160.9,448.8 2163.6,449.4 2166.3,451.1 2169.0,449.3 2171.6,449.5 2174.3,448.7 2177.0,449.2 2179.7,450.5 2182.3,449.2 2185.0,448.7 2187.7,449.3 2190.4,451.5 2193.0,450.0 2195.7,449.3 2198.4,449.9 2201.1,450.2 2203.7,449.8 2206.4,448.0 2209.1,449.9 2211.8,449.4 2214.4,450.2 2217.1,448.2 2219.8,450.2 2222.5,448.7 2225.2,447.4 2227.8,449.9 2230.5,448.0 2233.2,448.5 2235.9,447.5 2238.5,448.1 2241.2,447.3 2243.9,446.2 2246.6,444.2 2249.2,439.5 2251.9,435.3 2254.6,429.6 2257.3,415.3 2259.9,395.3 2263.7,369.9 2265.3,374.2 2268.0,397.8 2270.6,417.8 2273.3,430.2 2276.0,437.6 2278.7,442.3 2281.3,445.3 2284.0,444.8 2286.7,446.2 2289.4,449.0 2292.0,449.0 2294.7,448.8 2297.4,446.8 2302.3,448.6"/></defs>
<use href="#sp7" fill="none" stroke="#008000" stroke-width="9.60" stroke-linejoin="round" opacity="0.3"/>
<use href="#sp7" fill="none" stroke="#008000" stroke-width="7.00" stroke-linejoin="round"/>
<defs><polyline id="sp8" points="1401.1,591.3 1403.7,590.7 1406.4,592.8 1409.1,591.3 1411.8,591.5 1414.4,590.4 1417.1,590.4 1419.8,590.7 1422.5,590.7 1425.2,591.0 1427.8,591.3 1430.5,590.7 1433.2,590.5 1435.9,587.7 1438.5,588.5 1441.2,588.7 1443.9,590.2 1446.6,587.1 1449.2,578.5 1451.9,550.3 1454.6,497.6 1456.7,471.6 1459.9,521.4 1462.6,565.7 1465.3,584.3 1468.0,590.5 1470.6,590.3 1473.3,592.0 1476.0,590.2 1478.7,588.2 1481.3,576.6 1484.0,548.0 1486.7,509.7 1488.1,502.2 1492.0,546.9 1494.7,574.9 1497.4,585.9 1500.1,590.1 1502.7,591.8 1505.4,591.8 1508.1,590.6 1510.8,592.2 1513.4,591.4 1516.1,590.3 1518.8,591.7 1521.5,590.6 1524.1,591.2 1526.8,589.9 1529.5,590.3 1532.2,588.3 1534.9,589.3 1537.5,586.8 1540.2,586.4 1542.9,580.7 1545.6,575.5 1548.2,563.0 1550.9,542.4 1553.6,517.7 1556.3,493.4 1558.5,486.7 1561.6,501.6 1564.3,524.0 1567.0,548.7 1569.6,567.0 1572.3,578.5 1575.0,584.4 1577.7,585.0 1580.3,588.7 1583.0,588.5 1585.7,587.9 1588.4,589.1 1591.0,587.1 1593.7,587.0 1596.4,584.8 1599.1,582.2 1601.7,581.3 1604.4,579.1 1607.1,576.6 1610.8,576.3 1612.4,576.1 1615.1,578.2 1617.8,579.4 1620.5,583.3 1623.1,584.4 1625.8,586.6 1628.5,588.8 1631.2,589.3 1633.8,591.1 1636.5,591.6 1639.2,590.8 1641.9,591.7 1644.5,594.0 1647.2,593.2 1649.9,593.6 1652.6,592.6 1655.3,593.4 1657.9,594.6 1660.6,594.1 1663.3,593.6 1666.0,595.3 1668.6,594.1 1671.3,593.8 1674.0,595.1 1676.7,592.7 1679.3,594.6 1682.0,593.3 1684.7,593.5 1687.4,593.6 1690.0,594.3 1692.7,594.3 1695.4,594.5 1698.1,594.4 1700.7,595.4 1703.4,595.6 1706.1,594.8 1708.8,594.8 1711.4,593.9 1714.1,593.4 1716.8,594.7 1719.5,594.3 1722.1,594.9 1724.8,592.8 1727.5,596.4 1730.2,593.2 1732.8,594.3 1735.5,595.1 1738.2,593.1 1740.9,593.8 1743.5,592.6 1746.2,593.1 1748.9,592.7 1751.6,594.3 1754.2,594.5 1756.9,594.0 1759.6,595.3 1762.3,595.4 1765.0,594.2 1767.6,594.1 1770.3,594.0 1773.0,593.9 1775.7,595.3 1778.3,594.4 1781.0,594.0 1783.7,594.1 1786.4,594.7 1789.0,593.9 1791.7,594.5 1794.4,594.2 1797.1,595.3 1799.7,595.2 1802.4,593.1 1805.1,594.1 1807.8,594.8 1810.4,593.8 1813.1,594.9 1815.8,594.5 1818.5,594.7 1821.1,594.1 1823.8,594.4 1826.5,594.6 1829.2,593.0 1831.8,593.4 1834.5,593.3 1837.2,595.5 1839.9,594.4 1842.5,594.5 1845.2,594.3 1847.9,593.7 1850.6,593.5 1853.2,594.8 1855.9,593.8 1858.6,595.4 1861.3,594.3 1863.9,594.2 1866.6,593.9 1869.3,594.1 1872.0,594.1 1874.6,595.3 1877.3,596.0 1880.0,593.2 1882.7,594.3 1885.4,594.7 1888.0,593.4 1890.7,593.6 1893.4,593.7 1896.1,592.1 1898.7,594.6 1901.4,594.0 1904.1,594.0 1906.8,594.1 1909.4,594.3 1912.1,595.9 1914.8,594.2 1917.5,594.7 1920.1,593.6 1922.8,594.3 1925.5,593.8 1928.2,593.9 1930.8,593.3 1933.5,593.4 1936.2,594.4 1938.9,594.6 1941.5,594.4 1944.2,593.5 1946.9,594.3 1949.6,592.0 1952.2,594.8 1954.9,594.0 1957.6,594.2 1960.3,594.9 1962.9,593.7 1965.6,594.8 1968.3,593.6 1971.0,594.4 1973.6,593.7 1976.3,594.2 1979.0,595.1 1981.7,593.5 1984.3,593.5 1987.0,593.7 1989.7,594.2 1992.4,596.2 1995.1,593.5 1997.7,592.3 2000.4,593.4 2003.1,592.7 2005.8,593.5 2008.4,594.0 2011.1,593.2 2013.8,593.4 2016.5,592.5 2019.1,594.1 2021.8,593.4 2024.5,594.8 2027.2,594.8 2029.8,593.3 2032.5,593.7 2035.2,594.0 2037.9,594.6 2040.5,592.6 2043.2,593.9 2045.9,595.4 2048.6,593.9 2051.2,594.1 2053.9,594.0 2056.6,593.0 2059.3,594.7 2061.9,594.2 2064.6,594.1 2067.3,594.5 2070.0,594.6 2072.6,592.4 2075.3,594.3 2078.0,593.5 2080.7,594.1 2083.3,593.4 2086.0,593.3 2088.7,594.8 2091.4,594.1 2094.0,593.9 2096.7,594.0 2099.4,594.3 2102.1,594.3 2104.7,592.5 2107.4,593.7 2110.1,594.2 2112.8,594.9 2115.5,595.1 2118.1,592.5 2120.8,593.7 2124.5,591.1 2126.2,591.9 2128.8,592.3 2131.5,593.5 2134.2,596.0 2136.9,595.1 2139.5,595.5 2142.2,596.6 2144.9,597.2 2147.6,594.8 2150.2,595.9 2152.9,596.2 2155.6,597.7 2158.3,598.3 2160.9,596.4 2163.6,596.8 2166.3,597.2 2169.0,597.5 2171.6,596.4 2174.3,597.4 2177.0,596.2 2179.7,594.6 2182.3,595.6 2185.0,596.9 2187.7,597.4 2190.4,594.9 2193.0,595.2 2195.7,596.6 2198.4,593.9 2201.1,597.0 2203.7,597.3 2206.4,594.0 2209.1,597.0 2211.8,596.1 2214.4,597.3 2217.1,596.3 2219.8,595.8 2222.5,595.9 2225.2,596.4 2227.8,595.6 2230.5,595.2 2233.2,593.7 2235.9,594.8 2238.5,593.9 2241.2,594.6 2243.9,592.2 2246.6,590.7 2249.2,588.3 2251.9,586.3 2254.6,580.4 2257.3,570.9 2259.9,556.6 2262.6,531.3 2266.1,504.0 2268.0,511.9 2270.6,540.8 2273.3,561.2 2276.0,577.2 2278.7,582.1 2281.3,587.1 2284.0,587.8 2286.7,590.4 2289.4,592.4 2292.0,592.6 2294.7,592.4 2297.4,595.2 2302.3,594.2"/></defs>
<use href="#sp8" fill="none" stroke="#ff8000" stroke-width="9.60" stroke-linejoin="round" opacity="0.3"/>
<use href="#sp8" fill="none" stroke="#ff8000" stroke-width="7.00" stroke-linejoin="round"/>
<defs><polyline id="sp9" points="1401.1,709.6 1403.7,709.2 1406.4,709.4 1409.1,710.4 1411.8,708.9 1414.4,709.4 1417.1,708.7 1419.8,710.1 1422.5,709.0 1425.2,709.6 1427.8,709.1 1430.5,707.8 1433.2,707.8 1435.9,707.1 1438.5,705.1 1441.2,706.5 1443.9,708.9 1446.6,705.1 1449.2,698.7 1451.9,675.9 1454.6,634.9 1456.7,614.3 1459.9,654.4 1462.6,688.5 1465.3,702.1 1468.0,708.2 1470.6,708.2 1473.3,707.6 1476.0,707.6 1478.7,703.9 1481.3,695.8 1484.0,673.8 1486.7,643.0 1488.1,636.7 1492.0,671.3 1494.7,695.3 1497.4,702.6 1500.1,708.3 1502.7,708.1 1505.4,707.8 1508.1,707.4 1510.8,708.3 1513.4,707.7 1516.1,707.6 1518.8,708.3 1521.5,707.1 1524.1,707.1 1526.8,707.4 1529.5,707.6 1532.2,706.4 1534.9,706.1 1537.5,705.3 1540.2,704.5 1542.9,702.1 1545.6,694.6 1548.2,684.6 1550.9,668.2 1553.6,648.2 1556.3,630.6 1558.5,623.4 1561.6,634.8 1564.3,655.5 1567.0,673.6 1569.6,688.7 1572.3,697.9 1575.0,703.0 1577.7,705.4 1580.3,705.9 1583.0,707.9 1585.7,706.1 1588.4,706.1 1591.0,706.3 1593.7,705.0 1596.4,703.1 1599.1,701.7 1601.7,700.3 1604.4,698.1 1607.1,697.4 1610.8,696.2 1612.4,696.6 1615.1,696.3 1617.8,698.4 1620.5,700.0 1623.1,703.7 1625.8,704.3 1628.5,706.5 1631.2,706.9 1633.8,708.4 1636.5,709.0 1639.2,709.1 1641.9,710.7 1644.5,709.1 1647.2,710.8 1649.9,712.4 1652.6,710.0 1655.3,710.7 1657.9,709.6 1660.6,710.7 1663.3,709.5 1666.0,711.3 1668.6,710.5 1671.3,709.6 1674.0,710.0 1676.7,709.8 1679.3,710.7 1682.0,711.6 1684.7,710.7 1687.4,710.2 1690.0,710.4 1692.7,711.1 1695.4,709.3 1698.1,711.5 1700.7,711.4 1703.4,709.4 1706.1,712.0 1708.8,710.0 1711.4,711.0 1714.1,712.0 1716.8,710.0 1719.5,709.9 1722.1,710.4 1724.8,710.5 1727.5,711.2 1730.2,710.9 1732.8,710.9 1735.5,711.0 1738.2,711.2 1740.9,710.7 1743.5,711.6 1746.2,711.4 1748.9,710.6 1751.6,712.7 1754.2,710.5 1756.9,711.9 1759.6,710.9 1762.3,711.7 1765.0,711.8 1767.6,712.1 1770.3,712.5 1773.0,710.9 1775.7,713.5 1778.3,711.8 1781.0,710.9 1783.7,710.6 1786.4,713.2 1789.0,712.7 1791.7,711.5 1794.4,712.1 1797.1,712.5 1799.7,711.7 1802.4,711.3 1805.1,711.6 1807.8,712.2 1810.4,711.6 1813.1,710.8 1815.8,712.2 1818.5,710.4 1821.1,711.1 1823.8,712.6 1826.5,711.9 1829.2,711.9 1831.8,711.8 1834.5,712.4 1837.2,711.7 1839.9,710.3 1842.5,711.9 1845.2,709.5 1847.9,710.3 1850.6,712.9 1853.2,712.5 1855.9,711.4 1858.6,711.7 1861.3,711.8 1863.9,712.5 1866.6,711.2 1869.3,711.2 1872.0,711.4 1874.6,711.9 1877.3,712.0 1880.0,711.6 1882.7,712.4 1885.4,711.1 1888.0,711.8 1890.7,711.4 1893.4,711.2 1896.1,712.8 1898.7,711.7 1901.4,711.2 1904.1,711.9 1906.8,711.2 1909.4,712.4 1912.1,712.5 1914.8,712.7 1917.5,711.2 1920.1,711.9 1922.8,713.3 1925.5,711.8 1928.2,712.9 1930.8,713.1 1933.5,711.0 1936.2,712.9 1938.9,712.6 1941.5,712.7 1944.2,713.3 1946.9,712.4 1949.6,712.1 1952.2,712.5 1954.9,711.8 1957.6,712.5 1960.3,710.7 1962.9,713.4 1965.6,711.8 1968.3,712.5 1971.0,712.4 1973.6,712.2 1976.3,712.3 1979.0,712.2 1981.7,711.0 1984.3,711.8 1987.0,713.1 1989.7,711.5 1992.4,711.5 1995.1,713.8 1997.7,713.1 2000.4,713.4 2003.1,712.3 2005.8,712.5 2008.4,712.9 2011.1,712.7 2013.8,712.3 2016.5,711.3 2019.1,711.9 2021.8,711.3 2024.5,713.5 2027.2,712.2 2029.8,712.3 2032.5,712.7 2035.2,712.5 2037.9,712.9 2040.5,712.1 2043.2,711.5 2045.9,713.8 2048.6,712.1 2051.2,712.3 2053.9,712.1 2056.6,712.3 2059.3,712.8 2061.9,713.3 2064.6,712.1 2067.3,713.0 2070.0,712.4 2072.6,713.8 2075.3,712.1 2078.0,713.0 2080.7,713.5 2083.3,712.1 2086.0,713.2 2088.7,713.2 2091.4,712.6 2094.0,713.0 2096.7,713.9 2099.4,713.4 2102.1,713.0 2104.7,713.1 2107.4,713.6 2110.1,714.2 2112.8,713.7 2115.5,713.4 2118.1,713.5 2120.8,710.6 2123.5,710.1 2126.2,709.7 2128.8,712.7 2131.5,711.2 2134.2,713.3 2136.9,714.0 2139.5,712.6 2142.2,713.2 2144.9,713.5 2147.6,714.3 2150.2,712.7 2152.9,714.0 2155.6,714.3 2158.3,713.9 2160.9,714.0 2163.6,714.8 2166.3,714.0 2169.0,713.9 2171.6,713.6 2174.3,714.3 2177.0,713.7 2179.7,714.3 2182.3,713.9 2185.0,714.6 2187.7,713.3 2190.4,713.8 2193.0,714.0 2195.7,714.0 2198.4,714.5 2201.1,713.9 2203.7,714.2 2206.4,714.9 2209.1,714.1 2211.8,712.7 2214.4,712.3 2217.1,713.7 2219.8,712.9 2222.5,713.2 2225.2,712.7 2227.8,713.5 2230.5,713.2 2233.2,711.3 2235.9,711.9 2238.5,711.0 2241.2,709.6 2243.9,710.0 2246.6,708.2 2249.2,706.7 2251.9,705.0 2254.6,698.8 2257.3,689.2 2259.9,671.6 2262.6,648.0 2265.1,635.9 2268.0,650.9 2270.6,673.8 2273.3,689.0 2276.0,698.2 2278.7,704.7 2281.3,705.6 2284.0,707.4 2286.7,708.8 2289.4,709.7 2292.0,709.2 2294.7,709.1 2297.4,710.2 2302.3,710.8"/></defs>
<use href="#sp9" fill="none" stroke="#0000ff" stroke-width="9.60" stroke-linejoin="round" opacity="0.3"/>
<use href="#sp9" fill="none" stroke="#0000ff" stroke-width="7.00" stroke-linejoin="round"/>
<line x1="1385.00" y1="99.20" x2="2305.50" y2="99.20" stroke="#000" stroke-width="6.00" stroke-linecap="butt"/>
<line x1="1385.30" y1="728.70" x2="2305.50" y2="728.70" stroke="#000" stroke-width="6.60" stroke-linecap="butt"/>
<line x1="1400.40" y1="96.20" x2="1400.40" y2="732.00" stroke="#000" stroke-width="6.40" stroke-linecap="butt"/>
<line x1="2302.30" y1="96.20" x2="2302.30" y2="743.20" stroke="#000" stroke-width="6.60" stroke-linecap="butt"/>
<line x1="1457.40" y1="728.70" x2="1457.40" y2="744.00" stroke="#000" stroke-width="6.00" stroke-linecap="butt"/>
<line x1="1739.04" y1="728.70" x2="1739.04" y2="744.00" stroke="#000" stroke-width="6.00" stroke-linecap="butt"/>
<line x1="2020.68" y1="728.70" x2="2020.68" y2="744.00" stroke="#000" stroke-width="6.00" stroke-linecap="butt"/>
<line x1="1598.22" y1="728.70" x2="1598.22" y2="737.50" stroke="#000" stroke-width="6.00" stroke-linecap="butt"/>
<line x1="1879.86" y1="728.70" x2="1879.86" y2="737.50" stroke="#000" stroke-width="6.00" stroke-linecap="butt"/>
<line x1="2161.50" y1="728.70" x2="2161.50" y2="737.50" stroke="#000" stroke-width="6.00" stroke-linecap="butt"/>
<text x="1457.1" y="790.6" font-size="53.8" text-anchor="middle" >1000</text>
<text x="1738.7" y="790.6" font-size="53.8" text-anchor="middle" >1200</text>
<text x="2020.4" y="790.6" font-size="53.8" text-anchor="middle" >1400</text>
<text x="2302.0" y="790.6" font-size="53.8" text-anchor="middle" >1600</text>
<text x="1887.5" y="860.0" font-size="57.3" text-anchor="middle" >Raman shift, cm<tspan font-size="37.5" dy="-18.5" dx="0.0">−1</tspan></text>
<text x="0.0" y="0.0" font-size="57.3" text-anchor="middle" transform="translate(1257.3,415.6) rotate(-90)">SERS intensity, a.u.</text>
<text x="1283.0" y="70.5" font-size="66.5" text-anchor="start" >B.</text>
<text x="1898.4" y="158.0" font-size="57.3" text-anchor="middle" style="word-spacing:1.5px">UV reduction time</text>
<text x="2192.3" y="247.0" font-size="57.3" text-anchor="end" >3 h</text>
<text x="2192.3" y="418.5" font-size="57.3" text-anchor="end" >2 h</text>
<text x="2192.3" y="551.5" font-size="57.3" text-anchor="end" >1 h</text>
<text x="2192.3" y="683.8" font-size="57.3" text-anchor="end" >0.5 h</text>
</g>
<g id="panelC">
<defs><polyline id="sp10" points="180.3,1141.0 182.6,1140.8 184.9,1140.9 187.2,1141.4 189.5,1141.6 191.8,1140.3 194.1,1141.3 196.4,1142.1 198.7,1141.6 201.0,1140.5 203.3,1141.2 205.6,1141.1 207.9,1141.1 210.2,1138.2 212.5,1139.5 214.8,1138.5 217.1,1139.5 219.4,1138.9 221.7,1130.2 224.0,1106.0 226.3,1051.0 228.7,1003.9 230.9,1043.6 233.2,1101.6 235.5,1129.5 237.8,1139.7 240.1,1142.6 242.4,1141.5 244.7,1141.3 247.0,1139.5 249.3,1132.4 251.6,1112.5 253.8,1073.1 256.4,1039.6 258.4,1063.7 260.7,1106.7 263.0,1128.9 265.3,1138.2 267.6,1140.7 269.9,1142.7 272.2,1143.0 274.5,1142.0 276.8,1143.0 279.1,1141.3 281.4,1141.2 283.7,1140.2 286.0,1141.3 288.3,1140.5 290.6,1140.6 292.9,1140.5 295.2,1139.3 297.5,1137.7 299.8,1137.3 302.1,1134.6 304.4,1129.1 306.7,1118.7 309.0,1099.0 311.3,1071.7 313.6,1042.8 317.0,1016.4 318.2,1020.0 320.5,1042.2 322.8,1073.3 325.1,1100.9 327.4,1119.7 329.7,1131.6 331.9,1134.6 334.2,1137.3 336.5,1137.8 338.8,1138.2 341.1,1137.3 343.4,1135.6 345.7,1135.8 348.0,1133.0 350.3,1131.7 352.6,1128.0 354.9,1126.7 357.2,1125.8 359.3,1125.0 361.8,1124.7 364.1,1128.1 366.4,1130.0 368.7,1131.0 371.0,1134.6 373.3,1136.7 375.6,1139.2 377.9,1142.5 380.2,1141.9 382.5,1144.9 384.8,1143.6 387.1,1143.6 389.4,1145.8 391.7,1145.4 394.0,1145.9 396.3,1146.5 398.6,1145.9 400.9,1146.1 403.2,1143.7 405.5,1144.5 407.8,1145.7 410.0,1145.5 412.3,1146.0 414.6,1145.1 416.9,1146.5 419.2,1147.3 421.5,1146.2 423.8,1146.5 426.1,1146.2 428.4,1146.7 430.7,1146.1 433.0,1145.6 435.3,1146.2 437.6,1146.2 439.9,1144.9 442.2,1146.4 444.5,1146.3 446.8,1146.5 449.1,1145.9 451.4,1146.8 453.7,1147.0 456.0,1145.9 458.3,1146.8 460.6,1147.2 462.9,1147.2 465.2,1145.9 467.5,1145.8 469.8,1146.8 472.1,1145.9 474.4,1148.9 476.7,1146.1 479.0,1146.2 481.3,1147.4 483.6,1146.5 485.9,1145.0 488.2,1146.8 490.4,1146.1 492.7,1146.5 495.0,1145.6 497.3,1146.3 499.6,1146.9 501.9,1147.0 504.2,1146.1 506.5,1146.5 508.8,1146.4 511.1,1147.2 513.4,1147.0 515.7,1146.1 518.0,1147.7 520.3,1146.6 522.6,1147.5 524.9,1146.4 527.2,1147.5 529.5,1147.1 531.8,1147.3 534.1,1147.7 536.4,1147.6 538.7,1147.4 541.0,1147.4 543.3,1146.2 545.6,1147.3 547.9,1145.5 550.2,1145.5 552.5,1147.1 554.8,1147.2 557.1,1148.6 559.4,1148.0 561.7,1148.3 564.0,1147.2 566.3,1147.8 568.5,1148.4 570.8,1147.9 573.1,1147.8 575.4,1147.6 577.7,1146.7 580.0,1146.8 582.3,1146.3 584.6,1147.9 586.9,1147.3 589.2,1147.0 591.5,1147.9 593.8,1147.1 596.1,1148.4 598.4,1149.2 600.7,1148.0 603.0,1147.0 605.3,1146.4 607.6,1149.3 609.9,1148.0 612.2,1146.6 614.5,1148.5 616.8,1146.3 619.1,1147.3 621.4,1147.5 623.7,1147.4 626.0,1146.7 628.3,1149.7 630.6,1147.4 632.9,1148.0 635.2,1147.7 637.5,1146.4 639.8,1147.3 642.1,1147.9 644.4,1148.5 646.7,1147.5 648.9,1148.1 651.2,1147.5 653.5,1148.3 655.8,1145.7 658.1,1148.3 660.4,1147.3 662.7,1147.3 665.0,1145.4 667.3,1146.9 669.6,1148.4 671.9,1149.8 674.2,1147.3 676.5,1147.3 678.8,1148.3 681.1,1148.1 683.4,1147.4 685.7,1147.8 688.0,1147.6 690.3,1148.5 692.6,1148.6 694.9,1149.5 697.2,1148.8 699.5,1148.6 701.8,1148.1 704.1,1148.8 706.4,1147.2 708.7,1149.9 711.0,1148.3 713.3,1149.3 715.6,1147.4 717.9,1149.0 720.2,1148.5 722.5,1148.0 724.8,1147.6 727.0,1147.4 729.3,1149.7 731.6,1149.2 733.9,1148.3 736.2,1148.4 738.5,1147.6 740.8,1146.7 743.1,1146.8 745.4,1147.8 747.7,1148.2 750.0,1147.3 752.3,1149.0 754.6,1148.8 756.9,1148.5 759.2,1146.9 761.5,1148.2 763.8,1148.4 766.1,1147.4 768.4,1146.6 770.7,1150.1 773.0,1149.0 775.3,1148.2 777.6,1149.9 779.9,1149.6 782.2,1149.0 784.5,1148.9 786.8,1149.4 789.1,1149.9 791.4,1148.6 793.7,1147.8 796.0,1147.4 798.3,1142.9 800.6,1143.8 801.8,1143.5 805.2,1145.4 807.4,1147.1 809.7,1148.9 812.0,1149.3 814.3,1149.7 816.6,1149.7 818.9,1150.3 821.2,1149.6 823.5,1151.0 825.8,1148.8 828.1,1150.5 830.4,1150.8 832.7,1149.4 835.0,1150.2 837.3,1151.8 839.6,1150.6 841.9,1150.0 844.2,1148.3 846.5,1151.1 848.8,1151.0 851.1,1151.4 853.4,1152.7 855.7,1150.9 858.0,1151.0 860.3,1150.3 862.6,1150.8 864.9,1150.8 867.2,1151.4 869.5,1151.2 871.8,1150.0 874.1,1150.1 876.4,1151.6 878.7,1149.5 881.0,1150.8 883.3,1151.4 885.5,1150.4 887.8,1149.9 890.1,1150.6 892.4,1149.4 894.7,1148.7 897.0,1148.0 899.3,1148.6 901.6,1147.4 903.9,1147.0 906.2,1143.8 908.5,1141.6 910.8,1138.1 913.1,1133.0 915.4,1122.2 917.7,1105.7 920.0,1076.4 923.4,1039.8 924.6,1043.6 926.9,1076.1 929.2,1107.0 931.5,1122.9 933.8,1132.7 936.1,1137.5 938.4,1141.5 940.7,1141.6 943.0,1142.9 945.3,1144.2 947.6,1146.4 951.1,1147.6"/></defs>
<use href="#sp10" fill="none" stroke="#00008b" stroke-width="9.80" stroke-linejoin="round" opacity="0.3"/>
<use href="#sp10" fill="none" stroke="#00008b" stroke-width="7.20" stroke-linejoin="round"/>
<defs><polyline id="sp11" points="180.3,1270.9 182.6,1270.4 184.9,1269.5 187.2,1271.2 189.5,1270.3 191.8,1270.5 194.1,1270.5 196.4,1270.2 198.7,1270.0 201.0,1270.0 203.3,1269.3 205.6,1270.1 207.9,1269.1 210.2,1269.1 212.5,1266.3 214.8,1268.6 217.1,1268.1 219.4,1267.6 221.7,1262.3 224.0,1245.6 226.3,1206.7 228.7,1175.3 230.9,1202.9 233.2,1244.2 235.5,1263.1 237.8,1268.5 240.1,1270.2 242.4,1270.3 244.7,1271.2 247.0,1269.0 249.3,1263.9 251.6,1250.4 253.8,1220.8 256.4,1196.2 258.4,1213.0 260.7,1246.0 263.0,1262.9 265.3,1267.3 267.6,1270.8 269.9,1270.7 272.2,1271.1 274.5,1269.4 276.8,1270.5 279.1,1269.5 281.4,1269.9 283.7,1271.2 286.0,1269.8 288.3,1267.9 290.6,1268.4 292.9,1268.3 295.2,1269.6 297.5,1267.7 299.8,1266.0 302.1,1266.3 304.4,1261.8 306.7,1254.3 309.0,1240.3 311.3,1223.4 313.6,1201.0 317.0,1184.0 318.2,1185.6 320.5,1201.5 322.8,1223.2 325.1,1242.4 327.4,1253.9 329.7,1261.3 331.9,1267.1 334.2,1266.9 336.5,1267.0 338.8,1267.4 341.1,1265.9 343.4,1266.5 345.7,1265.6 348.0,1262.8 350.3,1262.3 352.6,1259.5 354.9,1258.4 357.2,1256.7 359.3,1257.0 361.8,1256.4 364.1,1259.1 366.4,1260.4 368.7,1262.4 371.0,1263.7 373.3,1265.5 375.6,1267.4 377.9,1269.5 380.2,1270.2 382.5,1270.0 384.8,1271.2 387.1,1272.7 389.4,1271.5 391.7,1273.2 394.0,1272.0 396.3,1272.8 398.6,1271.3 400.9,1272.7 403.2,1270.9 405.5,1272.1 407.8,1271.7 410.0,1270.4 412.3,1270.9 414.6,1272.9 416.9,1272.4 419.2,1273.1 421.5,1272.3 423.8,1269.8 426.1,1272.3 428.4,1271.7 430.7,1271.8 433.0,1271.9 435.3,1271.6 437.6,1271.5 439.9,1273.3 442.2,1272.7 444.5,1271.8 446.8,1272.0 449.1,1273.1 451.4,1272.7 453.7,1272.5 456.0,1271.4 458.3,1272.1 460.6,1271.5 462.9,1270.9 465.2,1273.2 467.5,1272.2 469.8,1272.2 472.1,1271.8 474.4,1273.1 476.7,1274.2 479.0,1273.0 481.3,1273.3 483.6,1271.6 485.9,1272.8 488.2,1272.8 490.4,1273.8 492.7,1272.7 495.0,1271.9 497.3,1272.6 499.6,1272.3 501.9,1273.9 504.2,1273.3 506.5,1273.0 508.8,1272.9 511.1,1273.4 513.4,1272.4 515.7,1272.1 518.0,1271.3 520.3,1273.8 522.6,1273.2 524.9,1273.4 527.2,1272.9 529.5,1274.2 531.8,1272.1 534.1,1273.9 536.4,1272.2 538.7,1272.6 541.0,1272.0 543.3,1273.0 545.6,1272.7 547.9,1273.3 550.2,1272.5 552.5,1271.9 554.8,1273.5 557.1,1274.0 559.4,1273.6 561.7,1273.0 564.0,1273.4 566.3,1271.7 568.5,1272.8 570.8,1274.0 573.1,1273.5 575.4,1272.4 577.7,1273.8 580.0,1273.0 582.3,1273.7 584.6,1272.0 586.9,1272.7 589.2,1273.4 591.5,1273.4 593.8,1273.6 596.1,1273.2 598.4,1273.1 600.7,1273.6 603.0,1273.9 605.3,1272.1 607.6,1273.0 609.9,1273.1 612.2,1273.4 614.5,1274.1 616.8,1272.3 619.1,1273.8 621.4,1272.0 623.7,1272.8 626.0,1273.0 628.3,1273.2 630.6,1272.9 632.9,1273.0 635.2,1273.2 637.5,1273.2 639.8,1272.0 642.1,1272.4 644.4,1273.1 646.7,1273.9 648.9,1274.3 651.2,1275.8 653.5,1273.6 655.8,1272.9 658.1,1273.7 660.4,1274.1 662.7,1273.7 665.0,1272.8 667.3,1273.6 669.6,1273.6 671.9,1272.5 674.2,1272.7 676.5,1274.6 678.8,1271.9 681.1,1273.9 683.4,1273.5 685.7,1274.9 688.0,1274.3 690.3,1273.1 692.6,1274.8 694.9,1273.4 697.2,1275.4 699.5,1275.2 701.8,1273.8 704.1,1274.5 706.4,1274.0 708.7,1273.2 711.0,1274.8 713.3,1274.3 715.6,1274.6 717.9,1274.8 720.2,1275.1 722.5,1274.9 724.8,1274.0 727.0,1274.1 729.3,1274.4 731.6,1274.0 733.9,1273.9 736.2,1275.6 738.5,1274.6 740.8,1275.7 743.1,1273.6 745.4,1274.2 747.7,1273.9 750.0,1274.0 752.3,1274.1 754.6,1274.2 756.9,1274.0 759.2,1275.8 761.5,1274.9 763.8,1273.8 766.1,1274.0 768.4,1275.0 770.7,1274.9 773.0,1274.0 775.3,1275.2 777.6,1273.4 779.9,1274.2 782.2,1275.9 784.5,1272.5 786.8,1274.5 789.1,1275.4 791.4,1274.4 793.7,1273.7 796.0,1273.2 798.3,1271.6 800.6,1271.5 802.9,1272.7 805.2,1272.9 807.4,1274.1 809.7,1274.6 812.0,1275.2 814.3,1273.8 816.6,1275.0 818.9,1275.0 821.2,1275.1 823.5,1274.7 825.8,1273.7 828.1,1276.0 830.4,1276.2 832.7,1277.4 835.0,1276.2 837.3,1276.9 839.6,1276.1 841.9,1275.4 844.2,1276.1 846.5,1274.8 848.8,1275.9 851.1,1275.6 853.4,1274.9 855.7,1276.7 858.0,1276.6 860.3,1276.0 862.6,1276.3 864.9,1276.9 867.2,1275.5 869.5,1274.4 871.8,1274.7 874.1,1276.0 876.4,1275.5 878.7,1274.1 881.0,1276.2 883.3,1275.2 885.5,1276.2 887.8,1275.7 890.1,1274.3 892.4,1274.5 894.7,1273.5 897.0,1273.1 899.3,1273.1 901.6,1273.1 903.9,1273.0 906.2,1270.1 908.5,1269.8 910.8,1266.8 913.1,1262.6 915.4,1256.5 917.7,1242.6 920.0,1223.3 923.4,1196.3 924.6,1200.1 926.9,1223.9 929.2,1242.2 931.5,1254.6 933.8,1262.2 936.1,1266.2 938.4,1268.2 940.7,1268.3 943.0,1269.8 945.3,1271.9 947.6,1272.4 951.1,1271.6"/></defs>
<use href="#sp11" fill="none" stroke="#008000" stroke-width="9.80" stroke-linejoin="round" opacity="0.3"/>
<use href="#sp11" fill="none" stroke="#008000" stroke-width="7.20" stroke-linejoin="round"/>
<defs><polyline id="sp12" points="180.3,1366.1 182.6,1366.0 184.9,1366.6 187.2,1365.4 189.5,1366.9 191.8,1365.7 194.1,1366.9 196.4,1366.5 198.7,1365.2 201.0,1365.6 203.3,1365.9 205.6,1366.2 207.9,1364.0 210.2,1364.1 212.5,1364.4 214.8,1364.3 217.1,1363.6 219.4,1363.4 221.7,1360.8 224.0,1347.9 226.3,1321.4 228.7,1298.1 230.9,1317.8 233.2,1344.8 235.5,1361.0 237.8,1365.5 240.1,1366.8 242.4,1366.6 244.7,1364.7 247.0,1365.9 249.3,1361.7 251.6,1352.8 253.8,1332.8 256.4,1316.5 258.4,1328.0 260.7,1350.1 263.0,1360.3 265.3,1364.3 267.6,1364.8 269.9,1366.3 272.2,1366.0 274.5,1366.0 276.8,1366.6 279.1,1366.3 281.4,1365.8 283.7,1365.9 286.0,1365.7 288.3,1366.0 290.6,1365.8 292.9,1365.2 295.2,1364.3 297.5,1365.0 299.8,1364.4 302.1,1361.7 304.4,1360.0 306.7,1354.1 309.0,1343.6 311.3,1331.8 313.6,1317.5 317.0,1304.6 318.2,1305.9 320.5,1318.3 322.8,1331.9 325.1,1345.2 327.4,1354.7 329.7,1360.5 331.9,1363.1 334.2,1363.5 336.5,1364.1 338.8,1364.5 341.1,1364.1 343.4,1363.4 345.7,1362.6 348.0,1363.2 350.3,1361.7 352.6,1363.0 354.9,1360.7 357.2,1359.3 359.3,1359.7 361.8,1360.3 364.1,1361.0 366.4,1362.0 368.7,1363.0 371.0,1363.7 373.3,1365.2 375.6,1367.0 377.9,1365.8 380.2,1366.3 382.5,1367.5 384.8,1368.1 387.1,1367.9 389.4,1368.3 391.7,1367.5 394.0,1367.5 396.3,1368.1 398.6,1368.2 400.9,1369.0 403.2,1368.9 405.5,1366.6 407.8,1368.5 410.0,1367.5 412.3,1366.5 414.6,1368.3 416.9,1368.0 419.2,1367.9 421.5,1367.3 423.8,1367.5 426.1,1368.1 428.4,1367.2 430.7,1368.2 433.0,1368.4 435.3,1368.3 437.6,1368.7 439.9,1368.4 442.2,1367.7 444.5,1367.8 446.8,1368.7 449.1,1369.3 451.4,1368.8 453.7,1368.4 456.0,1368.9 458.3,1367.5 460.6,1368.1 462.9,1368.6 465.2,1368.8 467.5,1368.7 469.8,1368.7 472.1,1368.1 474.4,1368.5 476.7,1369.1 479.0,1367.7 481.3,1368.1 483.6,1368.7 485.9,1370.0 488.2,1369.4 490.4,1370.0 492.7,1369.9 495.0,1368.6 497.3,1368.9 499.6,1368.1 501.9,1369.8 504.2,1369.5 506.5,1369.4 508.8,1369.4 511.1,1369.3 513.4,1369.1 515.7,1369.2 518.0,1369.8 520.3,1368.4 522.6,1368.2 524.9,1369.0 527.2,1369.8 529.5,1369.1 531.8,1368.8 534.1,1369.6 536.4,1369.0 538.7,1367.6 541.0,1368.3 543.3,1367.5 545.6,1368.8 547.9,1368.7 550.2,1369.3 552.5,1370.4 554.8,1368.6 557.1,1369.0 559.4,1368.7 561.7,1367.0 564.0,1368.4 566.3,1368.5 568.5,1369.2 570.8,1368.4 573.1,1368.1 575.4,1369.4 577.7,1368.9 580.0,1368.4 582.3,1368.5 584.6,1368.8 586.9,1369.6 589.2,1370.0 591.5,1368.1 593.8,1369.8 596.1,1369.0 598.4,1369.2 600.7,1369.7 603.0,1368.3 605.3,1369.6 607.6,1368.1 609.9,1368.7 612.2,1368.4 614.5,1370.2 616.8,1370.1 619.1,1369.5 621.4,1369.3 623.7,1368.6 626.0,1370.2 628.3,1370.0 630.6,1369.6 632.9,1368.9 635.2,1368.7 637.5,1368.9 639.8,1369.9 642.1,1368.3 644.4,1369.1 646.7,1370.1 648.9,1369.6 651.2,1370.2 653.5,1369.3 655.8,1369.3 658.1,1370.0 660.4,1369.4 662.7,1369.2 665.0,1368.6 667.3,1368.0 669.6,1370.0 671.9,1368.7 674.2,1368.5 676.5,1369.6 678.8,1368.4 681.1,1368.1 683.4,1368.6 685.7,1369.0 688.0,1369.2 690.3,1369.4 692.6,1369.7 694.9,1368.9 697.2,1369.3 699.5,1368.9 701.8,1368.6 704.1,1369.3 706.4,1369.2 708.7,1370.3 711.0,1369.4 713.3,1368.5 715.6,1369.4 717.9,1368.8 720.2,1370.1 722.5,1367.8 724.8,1368.5 727.0,1368.5 729.3,1369.1 731.6,1368.9 733.9,1367.9 736.2,1367.7 738.5,1369.1 740.8,1370.0 743.1,1370.0 745.4,1368.7 747.7,1369.3 750.0,1368.4 752.3,1368.0 754.6,1369.8 756.9,1369.4 759.2,1368.7 761.5,1368.7 763.8,1369.6 766.1,1369.2 768.4,1368.7 770.7,1369.2 773.0,1369.0 775.3,1368.7 777.6,1368.5 779.9,1369.6 782.2,1368.7 784.5,1368.2 786.8,1370.3 789.1,1369.9 791.4,1369.3 793.7,1368.7 796.0,1368.4 798.3,1366.6 800.6,1366.9 802.9,1367.2 805.2,1367.5 807.4,1368.8 809.7,1368.5 812.0,1369.4 814.3,1368.3 816.6,1369.5 818.9,1369.2 821.2,1368.7 823.5,1369.4 825.8,1369.7 828.1,1369.4 830.4,1370.5 832.7,1369.4 835.0,1370.5 837.3,1370.4 839.6,1369.5 841.9,1371.0 844.2,1369.1 846.5,1370.4 848.8,1370.1 851.1,1370.6 853.4,1369.0 855.7,1369.2 858.0,1369.5 860.3,1370.0 862.6,1370.1 864.9,1370.0 867.2,1369.8 869.5,1369.4 871.8,1368.9 874.1,1369.5 876.4,1370.2 878.7,1370.4 881.0,1369.3 883.3,1370.3 885.5,1368.6 887.8,1370.0 890.1,1368.5 892.4,1369.3 894.7,1368.3 897.0,1368.1 899.3,1368.0 901.6,1369.0 903.9,1367.0 906.2,1367.1 908.5,1365.7 910.8,1364.2 913.1,1361.4 915.4,1356.8 917.7,1346.9 920.0,1333.8 923.4,1316.1 924.6,1318.8 926.9,1334.8 929.2,1347.6 931.5,1357.1 933.8,1360.8 936.1,1363.7 938.4,1366.1 940.7,1367.3 943.0,1366.9 945.3,1367.4 947.6,1368.8 951.1,1366.6"/></defs>
<use href="#sp12" fill="none" stroke="#ff00ff" stroke-width="9.80" stroke-linejoin="round" opacity="0.3"/>
<use href="#sp12" fill="none" stroke="#ff00ff" stroke-width="7.20" stroke-linejoin="round"/>
<defs><polyline id="sp13" points="180.3,1446.2 182.6,1446.2 184.9,1444.5 187.2,1446.0 189.5,1445.5 191.8,1445.5 194.1,1443.6 196.4,1444.8 198.7,1445.0 201.0,1444.8 203.3,1444.7 205.6,1444.6 207.9,1442.4 210.2,1443.8 212.5,1443.1 214.8,1443.5 217.1,1443.5 219.4,1443.8 221.7,1442.6 224.0,1438.3 226.3,1424.3 228.7,1414.4 230.9,1423.1 233.2,1435.6 235.5,1441.3 237.8,1444.9 240.1,1443.8 242.4,1445.5 244.7,1445.0 247.0,1443.9 249.3,1442.2 251.6,1438.7 253.8,1429.6 256.4,1421.9 258.4,1427.2 260.7,1436.5 263.0,1442.4 265.3,1443.1 267.6,1445.1 269.9,1444.7 272.2,1443.9 274.5,1443.9 276.8,1444.3 279.1,1443.3 281.4,1445.5 283.7,1445.1 286.0,1443.6 288.3,1444.2 290.6,1445.4 292.9,1444.4 295.2,1443.3 297.5,1442.3 299.8,1442.4 302.1,1443.7 304.4,1441.9 306.7,1438.3 309.0,1435.6 311.3,1428.8 313.6,1421.9 317.0,1416.9 318.2,1417.4 320.5,1423.8 322.8,1428.7 325.1,1435.0 327.4,1440.2 329.7,1442.6 331.9,1442.1 334.2,1444.6 336.5,1444.1 338.8,1442.3 341.1,1444.4 343.4,1441.9 345.7,1442.9 348.0,1441.1 350.3,1440.1 352.6,1441.3 354.9,1440.5 357.2,1439.8 359.3,1439.8 361.8,1439.9 364.1,1440.2 366.4,1440.2 368.7,1442.0 371.0,1442.3 373.3,1442.7 375.6,1443.0 377.9,1443.6 380.2,1443.0 382.5,1444.0 384.8,1443.7 387.1,1445.3 389.4,1443.8 391.7,1444.2 394.0,1444.6 396.3,1445.1 398.6,1444.9 400.9,1444.6 403.2,1446.1 405.5,1444.6 407.8,1444.8 410.0,1446.5 412.3,1444.0 414.6,1445.3 416.9,1445.0 419.2,1443.8 421.5,1444.3 423.8,1445.4 426.1,1443.8 428.4,1444.8 430.7,1445.6 433.0,1444.9 435.3,1445.3 437.6,1444.7 439.9,1444.8 442.2,1444.9 444.5,1445.2 446.8,1445.9 449.1,1445.6 451.4,1447.0 453.7,1446.1 456.0,1446.0 458.3,1447.5 460.6,1445.9 462.9,1445.5 465.2,1446.2 467.5,1445.4 469.8,1446.6 472.1,1447.2 474.4,1446.8 476.7,1446.1 479.0,1446.3 481.3,1446.8 483.6,1447.3 485.9,1446.2 488.2,1446.2 490.4,1447.3 492.7,1446.7 495.0,1446.8 497.3,1447.0 499.6,1446.1 501.9,1446.6 504.2,1447.4 506.5,1446.6 508.8,1446.6 511.1,1447.0 513.4,1447.0 515.7,1448.6 518.0,1446.3 520.3,1446.9 522.6,1448.3 524.9,1446.9 527.2,1447.2 529.5,1445.9 531.8,1447.6 534.1,1447.6 536.4,1447.6 538.7,1446.9 541.0,1447.3 543.3,1447.0 545.6,1447.7 547.9,1447.1 550.2,1447.6 552.5,1446.2 554.8,1446.9 557.1,1445.2 559.4,1447.1 561.7,1447.7 564.0,1447.0 566.3,1448.9 568.5,1446.5 570.8,1447.0 573.1,1446.6 575.4,1446.9 577.7,1447.0 580.0,1446.3 582.3,1446.7 584.6,1448.8 586.9,1447.2 589.2,1448.0 591.5,1446.5 593.8,1447.3 596.1,1447.8 598.4,1447.3 600.7,1447.1 603.0,1447.3 605.3,1447.5 607.6,1448.1 609.9,1448.4 612.2,1446.6 614.5,1446.1 616.8,1447.4 619.1,1447.6 621.4,1448.1 623.7,1448.3 626.0,1447.1 628.3,1449.0 630.6,1447.8 632.9,1446.4 635.2,1448.3 637.5,1447.9 639.8,1447.9 642.1,1446.6 644.4,1447.5 646.7,1447.8 648.9,1447.6 651.2,1448.2 653.5,1448.6 655.8,1448.8 658.1,1448.6 660.4,1447.7 662.7,1449.0 665.0,1448.0 667.3,1448.4 669.6,1447.6 671.9,1446.8 674.2,1446.2 676.5,1448.0 678.8,1447.4 681.1,1447.8 683.4,1448.5 685.7,1446.8 688.0,1446.6 690.3,1448.1 692.6,1448.1 694.9,1447.7 697.2,1447.5 699.5,1446.8 701.8,1447.8 704.1,1447.4 706.4,1448.2 708.7,1448.6 711.0,1447.5 713.3,1448.2 715.6,1448.1 717.9,1448.4 720.2,1449.0 722.5,1448.4 724.8,1448.4 727.0,1448.5 729.3,1447.7 731.6,1448.0 733.9,1448.2 736.2,1448.8 738.5,1448.9 740.8,1449.5 743.1,1447.2 745.4,1447.9 747.7,1446.8 750.0,1447.6 752.3,1446.8 754.6,1448.8 756.9,1448.5 759.2,1447.2 761.5,1448.2 763.8,1448.5 766.1,1449.2 768.4,1448.5 770.7,1448.1 773.0,1447.9 775.3,1448.4 777.6,1448.2 779.9,1447.6 782.2,1447.1 784.5,1448.7 786.8,1447.4 789.1,1447.7 791.4,1448.4 793.7,1447.7 796.0,1448.4 798.3,1446.5 800.6,1447.5 802.9,1446.1 805.2,1446.2 807.4,1446.8 809.7,1447.8 812.0,1447.4 814.3,1446.9 816.6,1448.8 818.9,1447.3 821.2,1447.8 823.5,1448.1 825.8,1447.6 828.1,1448.2 830.4,1448.4 832.7,1447.9 835.0,1448.7 837.3,1447.5 839.6,1447.2 841.9,1448.1 844.2,1447.2 846.5,1448.2 848.8,1447.8 851.1,1447.6 853.4,1448.3 855.7,1448.3 858.0,1445.8 860.3,1447.6 862.6,1448.0 864.9,1448.2 867.2,1447.5 869.5,1447.0 871.8,1447.9 874.1,1448.3 876.4,1446.3 878.7,1446.7 881.0,1447.3 883.3,1445.9 885.5,1447.2 887.8,1448.2 890.1,1446.8 892.4,1447.6 894.7,1446.8 897.0,1447.6 899.3,1447.6 901.6,1447.9 903.9,1446.8 906.2,1447.1 908.5,1446.2 910.8,1444.8 913.1,1445.0 915.4,1441.4 917.7,1438.0 920.0,1433.4 923.4,1423.8 924.6,1424.6 926.9,1432.2 929.2,1437.7 931.5,1441.6 933.8,1442.7 936.1,1445.1 938.4,1444.6 940.7,1446.3 943.0,1446.6 945.3,1447.2 947.6,1448.3 951.1,1445.7"/></defs>
<use href="#sp13" fill="none" stroke="#0000ff" stroke-width="9.80" stroke-linejoin="round" opacity="0.3"/>
<use href="#sp13" fill="none" stroke="#0000ff" stroke-width="7.20" stroke-linejoin="round"/>
<defs><polyline id="sp14" points="180.3,1496.8 182.6,1496.9 184.9,1497.1 187.2,1497.9 189.5,1497.3 191.8,1497.2 194.1,1496.9 196.4,1497.2 198.7,1497.3 201.0,1497.4 203.3,1496.8 205.6,1497.5 207.9,1497.8 210.2,1497.7 212.5,1496.9 214.8,1498.0 217.1,1497.9 219.4,1497.5 221.7,1496.1 224.0,1494.0 226.3,1490.1 228.7,1486.2 230.9,1488.9 233.2,1494.8 235.5,1497.1 237.8,1497.8 240.1,1498.3 242.4,1498.1 244.7,1497.1 247.0,1498.1 249.3,1497.0 251.6,1495.7 253.8,1493.3 256.4,1489.9 258.4,1492.5 260.7,1495.1 263.0,1496.6 265.3,1497.1 267.6,1497.6 269.9,1496.9 272.2,1497.7 274.5,1497.7 276.8,1497.5 279.1,1496.7 281.4,1496.7 283.7,1498.1 286.0,1497.3 288.3,1498.4 290.6,1497.4 292.9,1497.9 295.2,1496.9 297.5,1497.3 299.8,1497.4 302.1,1497.6 304.4,1497.7 306.7,1496.5 309.0,1493.9 311.3,1492.5 313.6,1490.1 317.0,1488.3 318.2,1488.9 320.5,1491.1 322.8,1492.5 325.1,1495.3 327.4,1496.9 329.7,1496.5 331.9,1498.3 334.2,1498.4 336.5,1497.8 338.8,1498.5 341.1,1497.7 343.4,1498.1 345.7,1497.7 348.0,1496.8 350.3,1497.2 352.6,1496.8 354.9,1496.5 357.2,1496.0 359.5,1496.2 361.8,1496.1 364.1,1497.4 366.4,1496.0 368.7,1497.3 371.0,1497.1 373.3,1497.0 375.6,1498.2 377.9,1497.5 380.2,1498.6 382.5,1498.0 384.8,1498.3 387.1,1498.1 389.4,1498.5 391.7,1498.7 394.0,1498.0 396.3,1498.3 398.6,1499.1 400.9,1498.0 403.2,1499.2 405.5,1498.1 407.8,1498.0 410.0,1497.5 412.3,1497.9 414.6,1497.5 416.9,1498.0 419.2,1498.7 421.5,1498.3 423.8,1498.1 426.1,1497.8 428.4,1498.0 430.7,1497.6 433.0,1497.7 435.3,1499.4 437.6,1498.5 439.9,1497.9 442.2,1498.7 444.5,1499.2 446.8,1498.1 449.1,1498.4 451.4,1497.8 453.7,1497.6 456.0,1499.1 458.3,1500.2 460.6,1498.1 462.9,1497.6 465.2,1499.2 467.5,1499.0 469.8,1498.7 472.1,1499.2 474.4,1498.3 476.7,1498.6 479.0,1498.9 481.3,1498.3 483.6,1498.7 485.9,1498.4 488.2,1498.7 490.4,1498.6 492.7,1497.5 495.0,1498.6 497.3,1497.8 499.6,1498.1 501.9,1497.7 504.2,1498.9 506.5,1498.4 508.8,1498.3 511.1,1499.2 513.4,1498.9 515.7,1498.4 518.0,1497.5 520.3,1498.9 522.6,1498.4 524.9,1498.4 527.2,1498.9 529.5,1498.3 531.8,1498.5 534.1,1499.0 536.4,1498.9 538.7,1498.3 541.0,1499.3 543.3,1499.2 545.6,1499.5 547.9,1498.6 550.2,1498.7 552.5,1499.1 554.8,1498.8 557.1,1498.7 559.4,1498.6 561.7,1498.5 564.0,1498.3 566.3,1498.3 568.5,1498.8 570.8,1498.5 573.1,1497.9 575.4,1498.7 577.7,1499.5 580.0,1499.3 582.3,1497.6 584.6,1498.2 586.9,1499.0 589.2,1498.7 591.5,1498.7 593.8,1498.6 596.1,1498.7 598.4,1498.2 600.7,1499.3 603.0,1498.2 605.3,1498.6 607.6,1499.5 609.9,1499.2 612.2,1498.7 614.5,1498.7 616.8,1498.4 619.1,1498.4 621.4,1498.6 623.7,1499.4 626.0,1498.5 628.3,1499.0 630.6,1498.9 632.9,1498.9 635.2,1498.6 637.5,1499.1 639.8,1498.8 642.1,1498.8 644.4,1498.5 646.7,1497.7 648.9,1499.1 651.2,1499.1 653.5,1498.5 655.8,1498.7 658.1,1498.9 660.4,1498.3 662.7,1499.1 665.0,1499.1 667.3,1499.2 669.6,1499.2 671.9,1497.8 674.2,1499.0 676.5,1498.5 678.8,1499.3 681.1,1499.3 683.4,1499.2 685.7,1498.7 688.0,1500.2 690.3,1498.8 692.6,1498.3 694.9,1499.3 697.2,1498.1 699.5,1499.7 701.8,1499.3 704.1,1499.4 706.4,1499.3 708.7,1499.0 711.0,1498.1 713.3,1498.5 715.6,1499.1 717.9,1498.7 720.2,1499.0 722.5,1498.5 724.8,1498.4 727.0,1499.0 729.3,1499.2 731.6,1498.8 733.9,1498.3 736.2,1498.0 738.5,1499.8 740.8,1498.2 743.1,1498.4 745.4,1498.4 747.7,1499.2 750.0,1498.4 752.3,1499.1 754.6,1498.9 756.9,1498.2 759.2,1498.9 761.5,1498.2 763.8,1498.7 766.1,1499.2 768.4,1498.7 770.7,1498.3 773.0,1498.6 775.3,1498.7 777.6,1498.9 779.9,1497.6 782.2,1497.8 784.5,1499.0 786.8,1498.7 789.1,1498.7 791.4,1498.7 793.7,1498.4 796.0,1498.0 798.3,1497.8 800.6,1497.7 802.9,1497.5 805.2,1497.7 807.4,1497.6 809.7,1498.6 812.0,1498.0 814.3,1498.3 816.6,1498.7 818.9,1498.7 821.2,1499.2 823.5,1499.1 825.8,1498.9 828.1,1498.5 830.4,1498.7 832.7,1498.6 835.0,1499.5 837.3,1498.9 839.6,1498.3 841.9,1498.2 844.2,1499.3 846.5,1498.2 848.8,1498.8 851.1,1498.7 853.4,1499.1 855.7,1498.2 858.0,1498.8 860.3,1498.7 862.6,1499.0 864.9,1499.2 867.2,1498.6 869.5,1498.4 871.8,1499.0 874.1,1497.8 876.4,1498.6 878.7,1498.0 881.0,1497.9 883.3,1497.7 885.5,1497.6 887.8,1498.8 890.1,1498.8 892.4,1498.4 894.7,1498.8 897.0,1498.3 899.3,1497.9 901.6,1497.6 903.9,1498.4 906.2,1498.3 908.5,1498.3 910.8,1497.0 913.1,1496.7 915.4,1495.3 917.7,1495.1 920.0,1492.4 923.4,1488.9 924.6,1489.4 926.9,1492.1 929.2,1494.4 931.5,1496.5 933.8,1496.5 936.1,1497.7 938.4,1497.7 940.7,1497.2 943.0,1497.1 945.3,1497.5 947.6,1498.0 951.1,1497.4"/></defs>
<use href="#sp14" fill="none" stroke="#ff0000" stroke-width="9.80" stroke-linejoin="round" opacity="0.3"/>
<use href="#sp14" fill="none" stroke="#ff0000" stroke-width="7.20" stroke-linejoin="round"/>
<defs><polyline id="sp15" points="180.3,1544.2 182.6,1544.2 184.9,1544.2 187.2,1544.2 189.5,1544.2 191.8,1544.2 194.1,1544.2 196.4,1544.2 198.7,1544.2 201.0,1544.2 203.3,1544.2 205.6,1544.2 207.9,1544.2 210.2,1544.2 212.5,1544.2 214.8,1544.2 217.1,1544.2 219.4,1544.1 221.7,1543.8 224.0,1543.0 226.3,1541.2 228.7,1539.6 230.9,1541.0 233.2,1542.9 235.5,1543.8 237.8,1544.1 240.1,1544.1 242.4,1544.1 244.7,1544.1 247.0,1544.0 249.3,1543.8 251.6,1543.1 253.8,1541.7 256.4,1540.5 258.4,1541.4 260.7,1542.9 263.0,1543.7 265.3,1544.0 267.6,1544.1 269.9,1544.1 272.2,1544.1 274.5,1544.1 276.8,1544.1 279.1,1544.1 281.4,1544.1 283.7,1544.0 286.0,1544.0 288.3,1544.0 290.6,1544.0 292.9,1544.0 295.2,1544.0 297.5,1543.9 299.8,1543.9 302.1,1543.8 304.4,1543.6 306.7,1543.2 309.0,1542.5 311.3,1541.5 313.6,1540.5 317.0,1539.6 318.2,1539.7 320.5,1540.5 322.8,1541.6 325.1,1542.5 327.4,1543.2 329.7,1543.6 331.9,1543.8 334.2,1543.8 336.5,1543.9 338.8,1543.9 341.1,1543.9 343.4,1543.9 345.7,1543.9 348.0,1543.8 350.3,1543.8 352.6,1543.8 354.9,1543.7 357.2,1543.7 359.5,1543.7 361.8,1543.7 364.1,1543.7 366.4,1543.8 368.7,1543.8 371.0,1543.9 373.3,1543.9 375.6,1543.9 377.9,1543.9 380.2,1544.0 382.5,1544.0 384.8,1544.0 387.1,1544.0 389.4,1544.0 391.7,1544.0 394.0,1544.0 396.3,1544.0 398.6,1544.0 400.9,1544.0 403.2,1544.0 405.5,1544.0 407.8,1544.0 410.0,1544.0 412.3,1544.0 414.6,1544.0 416.9,1544.0 419.2,1544.0 421.5,1544.0 423.8,1544.0 426.1,1544.0 428.4,1544.0 430.7,1544.0 433.0,1544.0 435.3,1544.0 437.6,1544.0 439.9,1543.9 442.2,1543.9 444.5,1543.9 446.8,1543.9 449.1,1543.9 451.4,1543.9 453.7,1543.9 456.0,1543.9 458.3,1543.9 460.6,1543.9 462.9,1543.9 465.2,1543.9 467.5,1543.9 469.8,1543.9 472.1,1543.9 474.4,1543.9 476.7,1543.9 479.0,1543.9 481.3,1543.9 483.6,1543.9 485.9,1543.9 488.2,1543.9 490.4,1543.9 492.7,1543.9 495.0,1543.9 497.3,1543.9 499.6,1543.9 501.9,1543.9 504.2,1543.9 506.5,1543.9 508.8,1543.9 511.1,1543.9 513.4,1543.9 515.7,1543.9 518.0,1543.9 520.3,1543.9 522.6,1543.9 524.9,1543.9 527.2,1543.9 529.5,1543.9 531.8,1543.9 534.1,1543.9 536.4,1543.9 538.7,1543.9 541.0,1543.9 543.3,1543.8 545.6,1543.8 547.9,1543.8 550.2,1543.8 552.5,1543.8 554.8,1543.8 557.1,1543.8 559.4,1543.8 561.7,1543.8 564.0,1543.8 566.3,1543.8 568.5,1543.8 570.8,1543.8 573.1,1543.8 575.4,1543.8 577.7,1543.8 580.0,1543.8 582.3,1543.8 584.6,1543.8 586.9,1543.8 589.2,1543.8 591.5,1543.8 593.8,1543.8 596.1,1543.8 598.4,1543.8 600.7,1543.8 603.0,1543.8 605.3,1543.8 607.6,1543.8 609.9,1543.8 612.2,1543.8 614.5,1543.8 616.8,1543.8 619.1,1543.8 621.4,1543.8 623.7,1543.8 626.0,1543.8 628.3,1543.8 630.6,1543.8 632.9,1543.8 635.2,1543.8 637.5,1543.8 639.8,1543.7 642.1,1543.7 644.4,1543.7 646.7,1543.7 648.9,1543.7 651.2,1543.7 653.5,1543.7 655.8,1543.7 658.1,1543.7 660.4,1543.7 662.7,1543.7 665.0,1543.7 667.3,1543.7 669.6,1543.7 671.9,1543.7 674.2,1543.7 676.5,1543.7 678.8,1543.7 681.1,1543.7 683.4,1543.7 685.7,1543.7 688.0,1543.7 690.3,1543.7 692.6,1543.7 694.9,1543.7 697.2,1543.7 699.5,1543.7 701.8,1543.7 704.1,1543.7 706.4,1543.7 708.7,1543.7 711.0,1543.7 713.3,1543.7 715.6,1543.7 717.9,1543.7 720.2,1543.7 722.5,1543.7 724.8,1543.7 727.0,1543.7 729.3,1543.7 731.6,1543.6 733.9,1543.6 736.2,1543.6 738.5,1543.6 740.8,1543.6 743.1,1543.6 745.4,1543.6 747.7,1543.6 750.0,1543.6 752.3,1543.6 754.6,1543.6 756.9,1543.6 759.2,1543.6 761.5,1543.6 763.8,1543.6 766.1,1543.6 768.4,1543.6 770.7,1543.6 773.0,1543.6 775.3,1543.6 777.6,1543.6 779.9,1543.6 782.2,1543.6 784.5,1543.6 786.8,1543.6 789.1,1543.6 791.4,1543.6 793.7,1543.6 796.0,1543.6 798.3,1543.6 800.6,1543.6 802.9,1543.6 805.2,1543.6 807.4,1543.6 809.7,1543.6 812.0,1543.6 814.3,1543.6 816.6,1543.5 818.9,1543.5 821.2,1543.5 823.5,1543.5 825.8,1543.5 828.1,1543.5 830.4,1543.5 832.7,1543.5 835.0,1543.5 837.3,1543.5 839.6,1543.5 841.9,1543.5 844.2,1543.5 846.5,1543.5 848.8,1543.5 851.1,1543.5 853.4,1543.5 855.7,1543.5 858.0,1543.5 860.3,1543.5 862.6,1543.5 864.9,1543.5 867.2,1543.5 869.5,1543.5 871.8,1543.5 874.1,1543.5 876.4,1543.5 878.7,1543.4 881.0,1543.4 883.3,1543.4 885.5,1543.4 887.8,1543.4 890.1,1543.4 892.4,1543.4 894.7,1543.4 897.0,1543.4 899.3,1543.3 901.6,1543.3 903.9,1543.3 906.2,1543.2 908.5,1543.2 910.8,1543.1 913.1,1542.9 915.4,1542.6 917.7,1542.1 920.0,1541.2 923.4,1540.1 924.6,1540.3 926.9,1541.3 929.2,1542.1 931.5,1542.6 933.8,1542.9 936.1,1543.0 938.4,1543.1 940.7,1543.2 943.0,1543.2 945.3,1543.3 947.6,1543.3 951.1,1543.3"/></defs>
<use href="#sp15" fill="none" stroke="#000000" stroke-width="9.80" stroke-linejoin="round" opacity="0.3"/>
<use href="#sp15" fill="none" stroke="#000000" stroke-width="7.20" stroke-linejoin="round"/>
<rect x="1066.8" y="1150.0" width="6" height="10.0" fill="#00008b"/>
<rect x="1066.8" y="1274.5" width="6" height="7.5" fill="#008000"/>
<rect x="1066.8" y="1368.5" width="6" height="9.0" fill="#ff00ff"/>
<rect x="1066.8" y="1444.8" width="6" height="7.0" fill="#0000ff"/>
<rect x="1066.8" y="1495.4" width="6" height="7.0" fill="#ff0000"/>
<rect x="1066.8" y="1541.8" width="6" height="7.7" fill="#000000"/>
<line x1="165.00" y1="949.20" x2="1078.80" y2="949.20" stroke="#000" stroke-width="6.20" stroke-linecap="butt"/>
<line x1="165.30" y1="1572.20" x2="1078.80" y2="1572.20" stroke="#000" stroke-width="6.80" stroke-linecap="butt"/>
<line x1="181.00" y1="946.20" x2="181.00" y2="1575.60" stroke="#000" stroke-width="7.70" stroke-linecap="butt"/>
<line x1="1075.00" y1="944.70" x2="1075.00" y2="1581.50" stroke="#000" stroke-width="7.90" stroke-linecap="butt"/>
<line x1="228.70" y1="1572.20" x2="228.70" y2="1587.00" stroke="#000" stroke-width="7.50" stroke-linecap="butt"/>
<line x1="470.50" y1="1572.20" x2="470.50" y2="1587.00" stroke="#000" stroke-width="7.50" stroke-linecap="butt"/>
<line x1="712.30" y1="1572.20" x2="712.30" y2="1587.00" stroke="#000" stroke-width="7.50" stroke-linecap="butt"/>
<line x1="954.10" y1="1572.20" x2="954.10" y2="1587.00" stroke="#000" stroke-width="7.50" stroke-linecap="butt"/>
<line x1="349.60" y1="1572.20" x2="349.60" y2="1582.00" stroke="#000" stroke-width="6.50" stroke-linecap="butt"/>
<line x1="591.40" y1="1572.20" x2="591.40" y2="1582.00" stroke="#000" stroke-width="6.50" stroke-linecap="butt"/>
<line x1="833.20" y1="1572.20" x2="833.20" y2="1582.00" stroke="#000" stroke-width="6.50" stroke-linecap="butt"/>
<text x="228.2" y="1634.4" font-size="53.3" text-anchor="middle" >1000</text>
<text x="470.0" y="1634.4" font-size="53.3" text-anchor="middle" >1200</text>
<text x="711.8" y="1634.4" font-size="53.3" text-anchor="middle" >1400</text>
<text x="953.6" y="1634.4" font-size="53.3" text-anchor="middle" >1600</text>
<text x="647.0" y="1709.5" font-size="57.3" text-anchor="middle" >Raman shift, cm<tspan font-size="37.5" dy="-18.5" dx="0.0">−1</tspan></text>
<text x="0.0" y="0.0" font-size="57.3" text-anchor="middle" transform="translate(65.1,1252.3) rotate(-90)">SERS intensity, a.u.</text>
<text x="44.0" y="889.2" font-size="66.5" text-anchor="start" >C.</text>
<text x="1057.0" y="1011.8" font-size="57.5" text-anchor="end" style="word-spacing:3px">BT concentration (M)</text>
<text x="957.2" y="1158.0" font-size="57.5" text-anchor="start" >10<tspan font-size="36.8" dy="-18.4" dx="0.5">−4</tspan></text>
<text x="957.2" y="1283.5" font-size="57.5" text-anchor="start" >10<tspan font-size="36.8" dy="-18.4" dx="0.5">−5</tspan></text>
<text x="957.2" y="1386.0" font-size="57.5" text-anchor="start" >10<tspan font-size="36.8" dy="-18.4" dx="0.5">−6</tspan></text>
<text x="957.2" y="1465.0" font-size="57.5" text-anchor="start" >10<tspan font-size="36.8" dy="-18.4" dx="0.5">−7</tspan></text>
<text x="957.2" y="1513.2" font-size="57.5" text-anchor="start" >10<tspan font-size="36.8" dy="-18.4" dx="0.5">−8</tspan></text>
<text x="957.2" y="1564.6" font-size="57.5" text-anchor="start" >10<tspan font-size="36.8" dy="-18.4" dx="0.5">−9</tspan></text>
</g>
<g id="panelD">
<rect x="1469.0" y="1498.2" width="31" height="31" fill="#fff" stroke="#000" stroke-width="6.6"/>
<line x1="1632.36" y1="1440.55" x2="1632.36" y2="1478.55" stroke="#000" stroke-width="5.50" stroke-linecap="butt"/>
<line x1="1620.56" y1="1440.55" x2="1644.16" y2="1440.55" stroke="#000" stroke-width="5.00" stroke-linecap="butt"/>
<line x1="1620.56" y1="1478.55" x2="1644.16" y2="1478.55" stroke="#000" stroke-width="5.00" stroke-linecap="butt"/>
<rect x="1616.9" y="1444.1" width="31" height="31" fill="#fff" stroke="#000" stroke-width="6.6"/>
<line x1="1780.22" y1="1349.55" x2="1780.22" y2="1406.35" stroke="#000" stroke-width="5.50" stroke-linecap="butt"/>
<line x1="1768.42" y1="1349.55" x2="1792.02" y2="1349.55" stroke="#000" stroke-width="5.00" stroke-linecap="butt"/>
<line x1="1768.42" y1="1406.35" x2="1792.02" y2="1406.35" stroke="#000" stroke-width="5.00" stroke-linecap="butt"/>
<rect x="1764.7" y="1362.4" width="31" height="31" fill="#fff" stroke="#000" stroke-width="6.6"/>
<line x1="1928.08" y1="1255.35" x2="1928.08" y2="1308.95" stroke="#000" stroke-width="5.50" stroke-linecap="butt"/>
<line x1="1916.28" y1="1255.35" x2="1939.88" y2="1255.35" stroke="#000" stroke-width="5.00" stroke-linecap="butt"/>
<line x1="1916.28" y1="1308.95" x2="1939.88" y2="1308.95" stroke="#000" stroke-width="5.00" stroke-linecap="butt"/>
<rect x="1912.6" y="1266.7" width="31" height="31" fill="#fff" stroke="#000" stroke-width="6.6"/>
<line x1="2075.94" y1="1154.47" x2="2075.94" y2="1216.47" stroke="#000" stroke-width="5.50" stroke-linecap="butt"/>
<line x1="2064.14" y1="1154.47" x2="2087.74" y2="1154.47" stroke="#000" stroke-width="5.00" stroke-linecap="butt"/>
<line x1="2064.14" y1="1216.47" x2="2087.74" y2="1216.47" stroke="#000" stroke-width="5.00" stroke-linecap="butt"/>
<rect x="2060.4" y="1170.0" width="31" height="31" fill="#fff" stroke="#000" stroke-width="6.6"/>
<line x1="2223.80" y1="1008.57" x2="2223.80" y2="1062.57" stroke="#000" stroke-width="5.50" stroke-linecap="butt"/>
<line x1="2212.00" y1="1008.57" x2="2235.60" y2="1008.57" stroke="#000" stroke-width="5.00" stroke-linecap="butt"/>
<line x1="2212.00" y1="1062.57" x2="2235.60" y2="1062.57" stroke="#000" stroke-width="5.00" stroke-linecap="butt"/>
<rect x="2208.3" y="1020.1" width="31" height="31" fill="#fff" stroke="#000" stroke-width="6.6"/>
<line x1="1484.50" y1="1531.00" x2="2224.30" y2="1078.50" stroke="#ff0000" stroke-width="7.50" stroke-linecap="round"/>
<rect x="1409.70" y="954.00" width="888.30" height="622.20" fill="none" stroke="#000" stroke-width="8" stroke-linejoin="round"/>
<line x1="1397.50" y1="1531.40" x2="1409.70" y2="1531.40" stroke="#000" stroke-width="8.00" stroke-linecap="round"/>
<text x="1387.2" y="1544.8" font-size="54.3" text-anchor="end" >0</text>
<line x1="1397.50" y1="1354.00" x2="1409.70" y2="1354.00" stroke="#000" stroke-width="8.00" stroke-linecap="round"/>
<text x="1387.2" y="1367.4" font-size="54.3" text-anchor="end" >200</text>
<line x1="1397.50" y1="1176.60" x2="1409.70" y2="1176.60" stroke="#000" stroke-width="8.00" stroke-linecap="round"/>
<text x="1387.2" y="1190.0" font-size="54.3" text-anchor="end" >400</text>
<line x1="1397.50" y1="999.20" x2="1409.70" y2="999.20" stroke="#000" stroke-width="8.00" stroke-linecap="round"/>
<text x="1387.2" y="1012.6" font-size="54.3" text-anchor="end" >600</text>
<line x1="1404.00" y1="1442.70" x2="1409.70" y2="1442.70" stroke="#000" stroke-width="8.00" stroke-linecap="round"/>
<line x1="1404.00" y1="1265.30" x2="1409.70" y2="1265.30" stroke="#000" stroke-width="8.00" stroke-linecap="round"/>
<line x1="1404.00" y1="1087.90" x2="1409.70" y2="1087.90" stroke="#000" stroke-width="8.00" stroke-linecap="round"/>
<line x1="1484.50" y1="1576.20" x2="1484.50" y2="1588.50" stroke="#000" stroke-width="8.00" stroke-linecap="round"/>
<text x="1444.0" y="1637.8" font-size="54.0" text-anchor="start" >10<tspan font-size="36.0" dy="-16.5" dx="0.5">−9</tspan></text>
<line x1="1632.36" y1="1576.20" x2="1632.36" y2="1588.50" stroke="#000" stroke-width="8.00" stroke-linecap="round"/>
<text x="1591.9" y="1637.8" font-size="54.0" text-anchor="start" >10<tspan font-size="36.0" dy="-16.5" dx="0.5">−8</tspan></text>
<line x1="1780.22" y1="1576.20" x2="1780.22" y2="1588.50" stroke="#000" stroke-width="8.00" stroke-linecap="round"/>
<text x="1739.7" y="1637.8" font-size="54.0" text-anchor="start" >10<tspan font-size="36.0" dy="-16.5" dx="0.5">−7</tspan></text>
<line x1="1928.08" y1="1576.20" x2="1928.08" y2="1588.50" stroke="#000" stroke-width="8.00" stroke-linecap="round"/>
<text x="1887.6" y="1637.8" font-size="54.0" text-anchor="start" >10<tspan font-size="36.0" dy="-16.5" dx="0.5">−6</tspan></text>
<line x1="2075.94" y1="1576.20" x2="2075.94" y2="1588.50" stroke="#000" stroke-width="8.00" stroke-linecap="round"/>
<text x="2035.4" y="1637.8" font-size="54.0" text-anchor="start" >10<tspan font-size="36.0" dy="-16.5" dx="0.5">−5</tspan></text>
<line x1="2223.80" y1="1576.20" x2="2223.80" y2="1588.50" stroke="#000" stroke-width="8.00" stroke-linecap="round"/>
<text x="2183.3" y="1637.8" font-size="54.0" text-anchor="start" >10<tspan font-size="36.0" dy="-16.5" dx="0.5">−4</tspan></text>
<line x1="1410.57" y1="1576.20" x2="1410.57" y2="1582.50" stroke="#000" stroke-width="8.00" stroke-linecap="round"/>
<line x1="1558.43" y1="1576.20" x2="1558.43" y2="1582.50" stroke="#000" stroke-width="8.00" stroke-linecap="round"/>
<line x1="1706.29" y1="1576.20" x2="1706.29" y2="1582.50" stroke="#000" stroke-width="8.00" stroke-linecap="round"/>
<line x1="1854.15" y1="1576.20" x2="1854.15" y2="1582.50" stroke="#000" stroke-width="8.00" stroke-linecap="round"/>
<line x1="2002.01" y1="1576.20" x2="2002.01" y2="1582.50" stroke="#000" stroke-width="8.00" stroke-linecap="round"/>
<line x1="2149.87" y1="1576.20" x2="2149.87" y2="1582.50" stroke="#000" stroke-width="8.00" stroke-linecap="round"/>
<line x1="2297.73" y1="1576.20" x2="2297.73" y2="1582.50" stroke="#000" stroke-width="8.00" stroke-linecap="round"/>
<text x="1905.0" y="1710.6" font-size="57.5" text-anchor="middle" style="word-spacing:1.5px">BT concentration, M</text>
<text x="0.0" y="0.0" font-size="57.3" text-anchor="middle" transform="translate(1256.9,1263.9) rotate(-90)">SERS intensity, a.u.</text>
<text x="1283.3" y="889.2" font-size="66.5" text-anchor="start" >D.</text>
<text x="1455.2" y="1029.5" font-size="57.0" text-anchor="start" >Peak 1071 cm<tspan font-size="37.5" dy="-18.5" dx="0.0">−1</tspan></text>
</g>
</svg></body></html>
